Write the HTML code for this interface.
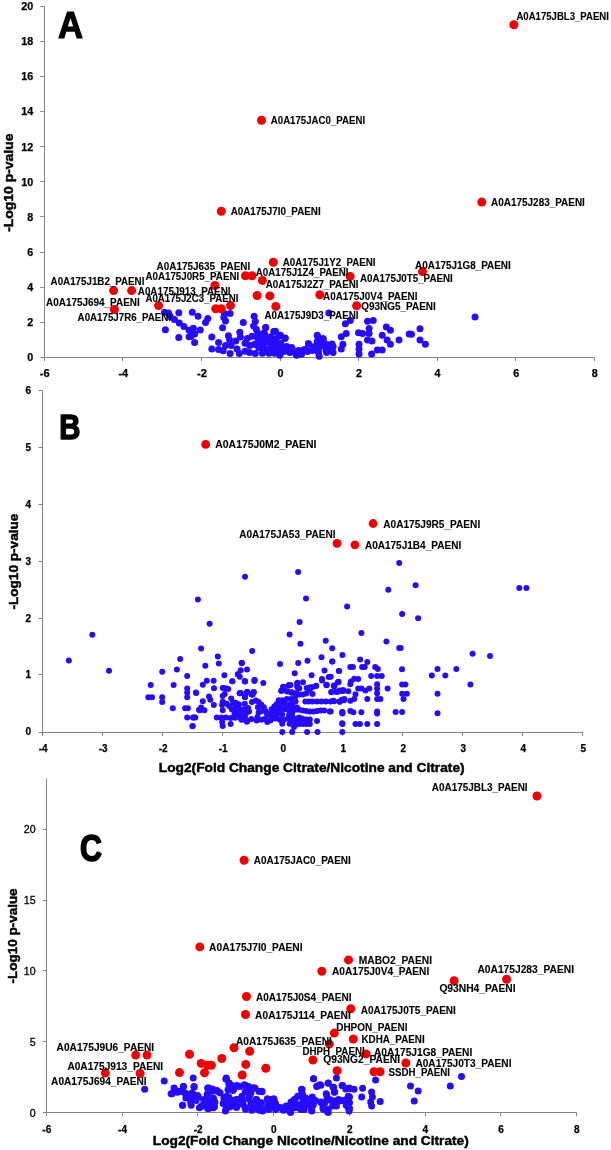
<!DOCTYPE html>
<html><head><meta charset="utf-8"><style>
html,body{margin:0;padding:0;background:#fff;overflow:hidden;}
svg{display:block;will-change:transform;}
text{font-family:"Liberation Sans", sans-serif;fill:#000;}
</style></head><body>
<svg width="611" height="1150" viewBox="0 0 611 1150">
<line x1="44.5" y1="6.0" x2="44.5" y2="360.9" stroke="#838383" stroke-width="1.0"/>
<line x1="40.3" y1="357.5" x2="594.5" y2="357.5" stroke="#838383" stroke-width="1.0"/>
<text x="33.3" y="361.4" font-size="10.6" font-weight="bold" text-anchor="end" textLength="6.0" lengthAdjust="spacingAndGlyphs" stroke="#000" stroke-width="0.25">0</text>
<line x1="40.3" y1="322.5" x2="44.5" y2="322.5" stroke="#838383" stroke-width="1.0"/>
<text x="33.3" y="326.2" font-size="10.6" font-weight="bold" text-anchor="end" textLength="6.0" lengthAdjust="spacingAndGlyphs" stroke="#000" stroke-width="0.25">2</text>
<line x1="40.3" y1="287.5" x2="44.5" y2="287.5" stroke="#838383" stroke-width="1.0"/>
<text x="33.3" y="291.1" font-size="10.6" font-weight="bold" text-anchor="end" textLength="6.0" lengthAdjust="spacingAndGlyphs" stroke="#000" stroke-width="0.25">4</text>
<line x1="40.3" y1="252.5" x2="44.5" y2="252.5" stroke="#838383" stroke-width="1.0"/>
<text x="33.3" y="256.0" font-size="10.6" font-weight="bold" text-anchor="end" textLength="6.0" lengthAdjust="spacingAndGlyphs" stroke="#000" stroke-width="0.25">6</text>
<line x1="40.3" y1="216.5" x2="44.5" y2="216.5" stroke="#838383" stroke-width="1.0"/>
<text x="33.3" y="220.8" font-size="10.6" font-weight="bold" text-anchor="end" textLength="6.0" lengthAdjust="spacingAndGlyphs" stroke="#000" stroke-width="0.25">8</text>
<line x1="40.3" y1="181.5" x2="44.5" y2="181.5" stroke="#838383" stroke-width="1.0"/>
<text x="33.3" y="185.7" font-size="10.6" font-weight="bold" text-anchor="end" textLength="12.0" lengthAdjust="spacingAndGlyphs" stroke="#000" stroke-width="0.25">10</text>
<line x1="40.3" y1="146.5" x2="44.5" y2="146.5" stroke="#838383" stroke-width="1.0"/>
<text x="33.3" y="150.5" font-size="10.6" font-weight="bold" text-anchor="end" textLength="12.0" lengthAdjust="spacingAndGlyphs" stroke="#000" stroke-width="0.25">12</text>
<line x1="40.3" y1="111.5" x2="44.5" y2="111.5" stroke="#838383" stroke-width="1.0"/>
<text x="33.3" y="115.4" font-size="10.6" font-weight="bold" text-anchor="end" textLength="12.0" lengthAdjust="spacingAndGlyphs" stroke="#000" stroke-width="0.25">14</text>
<line x1="40.3" y1="76.5" x2="44.5" y2="76.5" stroke="#838383" stroke-width="1.0"/>
<text x="33.3" y="80.2" font-size="10.6" font-weight="bold" text-anchor="end" textLength="12.0" lengthAdjust="spacingAndGlyphs" stroke="#000" stroke-width="0.25">16</text>
<line x1="40.3" y1="41.5" x2="44.5" y2="41.5" stroke="#838383" stroke-width="1.0"/>
<text x="33.3" y="45.1" font-size="10.6" font-weight="bold" text-anchor="end" textLength="12.0" lengthAdjust="spacingAndGlyphs" stroke="#000" stroke-width="0.25">18</text>
<line x1="40.3" y1="6.5" x2="44.5" y2="6.5" stroke="#838383" stroke-width="1.0"/>
<text x="33.3" y="9.9" font-size="10.6" font-weight="bold" text-anchor="end" textLength="12.0" lengthAdjust="spacingAndGlyphs" stroke="#000" stroke-width="0.25">20</text>
<text x="44.7" y="377.0" font-size="10.5" font-weight="bold" text-anchor="middle" textLength="9.8" lengthAdjust="spacingAndGlyphs" stroke="#000" stroke-width="0.25">-6</text>
<line x1="122.5" y1="357.5" x2="122.5" y2="360.9" stroke="#838383" stroke-width="1.0"/>
<text x="123.3" y="377.0" font-size="10.5" font-weight="bold" text-anchor="middle" textLength="9.8" lengthAdjust="spacingAndGlyphs" stroke="#000" stroke-width="0.25">-4</text>
<line x1="201.5" y1="357.5" x2="201.5" y2="360.9" stroke="#838383" stroke-width="1.0"/>
<text x="201.9" y="377.0" font-size="10.5" font-weight="bold" text-anchor="middle" textLength="9.8" lengthAdjust="spacingAndGlyphs" stroke="#000" stroke-width="0.25">-2</text>
<line x1="280.5" y1="357.5" x2="280.5" y2="360.9" stroke="#838383" stroke-width="1.0"/>
<text x="280.4" y="377.0" font-size="10.5" font-weight="bold" text-anchor="middle" textLength="6.0" lengthAdjust="spacingAndGlyphs" stroke="#000" stroke-width="0.25">0</text>
<line x1="358.5" y1="357.5" x2="358.5" y2="360.9" stroke="#838383" stroke-width="1.0"/>
<text x="359.0" y="377.0" font-size="10.5" font-weight="bold" text-anchor="middle" textLength="6.0" lengthAdjust="spacingAndGlyphs" stroke="#000" stroke-width="0.25">2</text>
<line x1="437.5" y1="357.5" x2="437.5" y2="360.9" stroke="#838383" stroke-width="1.0"/>
<text x="437.6" y="377.0" font-size="10.5" font-weight="bold" text-anchor="middle" textLength="6.0" lengthAdjust="spacingAndGlyphs" stroke="#000" stroke-width="0.25">4</text>
<line x1="515.5" y1="357.5" x2="515.5" y2="360.9" stroke="#838383" stroke-width="1.0"/>
<text x="516.2" y="377.0" font-size="10.5" font-weight="bold" text-anchor="middle" textLength="6.0" lengthAdjust="spacingAndGlyphs" stroke="#000" stroke-width="0.25">6</text>
<line x1="594.5" y1="357.5" x2="594.5" y2="360.9" stroke="#838383" stroke-width="1.0"/>
<text x="594.8" y="377.0" font-size="10.5" font-weight="bold" text-anchor="middle" textLength="6.0" lengthAdjust="spacingAndGlyphs" stroke="#000" stroke-width="0.25">8</text>
<text x="57.9" y="38.0" font-size="36.6" font-weight="bold" textLength="25.0" lengthAdjust="spacingAndGlyphs" stroke="#000" stroke-width="1.2" stroke-linejoin="round">A</text>
<text transform="translate(12.7,231.8) rotate(-90)" font-size="12.8" font-weight="bold" stroke="#000" stroke-width="0.45" textLength="98.2" lengthAdjust="spacingAndGlyphs">-Log10 p-value</text>
<line x1="42.5" y1="390.8" x2="42.5" y2="735.9" stroke="#838383" stroke-width="1.0"/>
<line x1="38.6" y1="732.5" x2="582.9" y2="732.5" stroke="#838383" stroke-width="1.0"/>
<text x="31.0" y="735.1" font-size="10" font-weight="bold" text-anchor="end" stroke="#000" stroke-width="0.25">0</text>
<line x1="38.6" y1="674.5" x2="42.5" y2="674.5" stroke="#838383" stroke-width="1.0"/>
<text x="31.0" y="678.3" font-size="10" font-weight="bold" text-anchor="end" stroke="#000" stroke-width="0.25">1</text>
<line x1="38.6" y1="618.5" x2="42.5" y2="618.5" stroke="#838383" stroke-width="1.0"/>
<text x="31.0" y="621.5" font-size="10" font-weight="bold" text-anchor="end" stroke="#000" stroke-width="0.25">2</text>
<line x1="38.6" y1="561.5" x2="42.5" y2="561.5" stroke="#838383" stroke-width="1.0"/>
<text x="31.0" y="564.7" font-size="10" font-weight="bold" text-anchor="end" stroke="#000" stroke-width="0.25">3</text>
<line x1="38.6" y1="504.5" x2="42.5" y2="504.5" stroke="#838383" stroke-width="1.0"/>
<text x="31.0" y="507.9" font-size="10" font-weight="bold" text-anchor="end" stroke="#000" stroke-width="0.25">4</text>
<line x1="38.6" y1="447.5" x2="42.5" y2="447.5" stroke="#838383" stroke-width="1.0"/>
<text x="31.0" y="451.1" font-size="10" font-weight="bold" text-anchor="end" stroke="#000" stroke-width="0.25">5</text>
<line x1="38.6" y1="390.5" x2="42.5" y2="390.5" stroke="#838383" stroke-width="1.0"/>
<text x="31.0" y="394.3" font-size="10" font-weight="bold" text-anchor="end" stroke="#000" stroke-width="0.25">6</text>
<text x="43.2" y="751.6" font-size="10" font-weight="bold" text-anchor="middle" stroke="#000" stroke-width="0.25">-4</text>
<line x1="102.5" y1="732.5" x2="102.5" y2="735.9" stroke="#838383" stroke-width="1.0"/>
<text x="103.2" y="751.6" font-size="10" font-weight="bold" text-anchor="middle" stroke="#000" stroke-width="0.25">-3</text>
<line x1="162.5" y1="732.5" x2="162.5" y2="735.9" stroke="#838383" stroke-width="1.0"/>
<text x="163.2" y="751.6" font-size="10" font-weight="bold" text-anchor="middle" stroke="#000" stroke-width="0.25">-2</text>
<line x1="222.5" y1="732.5" x2="222.5" y2="735.9" stroke="#838383" stroke-width="1.0"/>
<text x="223.2" y="751.6" font-size="10" font-weight="bold" text-anchor="middle" stroke="#000" stroke-width="0.25">-1</text>
<line x1="282.5" y1="732.5" x2="282.5" y2="735.9" stroke="#838383" stroke-width="1.0"/>
<text x="283.2" y="751.6" font-size="10" font-weight="bold" text-anchor="middle" stroke="#000" stroke-width="0.25">0</text>
<line x1="342.5" y1="732.5" x2="342.5" y2="735.9" stroke="#838383" stroke-width="1.0"/>
<text x="343.2" y="751.6" font-size="10" font-weight="bold" text-anchor="middle" stroke="#000" stroke-width="0.25">1</text>
<line x1="402.5" y1="732.5" x2="402.5" y2="735.9" stroke="#838383" stroke-width="1.0"/>
<text x="403.2" y="751.6" font-size="10" font-weight="bold" text-anchor="middle" stroke="#000" stroke-width="0.25">2</text>
<line x1="462.5" y1="732.5" x2="462.5" y2="735.9" stroke="#838383" stroke-width="1.0"/>
<text x="463.2" y="751.6" font-size="10" font-weight="bold" text-anchor="middle" stroke="#000" stroke-width="0.25">3</text>
<line x1="522.5" y1="732.5" x2="522.5" y2="735.9" stroke="#838383" stroke-width="1.0"/>
<text x="523.2" y="751.6" font-size="10" font-weight="bold" text-anchor="middle" stroke="#000" stroke-width="0.25">4</text>
<line x1="582.5" y1="732.5" x2="582.5" y2="735.9" stroke="#838383" stroke-width="1.0"/>
<text x="583.2" y="751.6" font-size="10" font-weight="bold" text-anchor="middle" stroke="#000" stroke-width="0.25">5</text>
<text x="59.2" y="438.9" font-size="35.8" font-weight="bold" textLength="21.2" lengthAdjust="spacingAndGlyphs" stroke="#000" stroke-width="1.6" stroke-linejoin="round">B</text>
<text x="158.8" y="772.2" font-size="13.4" font-weight="bold" textLength="305.8" lengthAdjust="spacingAndGlyphs" stroke="#000" stroke-width="0.45">Log2(Fold Change Citrate/Nicotine and Citrate)</text>
<text transform="translate(17.6,609.6) rotate(-90)" font-size="12.8" font-weight="bold" stroke="#000" stroke-width="0.45" textLength="96.0" lengthAdjust="spacingAndGlyphs">-Log10 p-value</text>
<line x1="46.5" y1="778.5" x2="46.5" y2="1116.1" stroke="#838383" stroke-width="1.0"/>
<line x1="42.9" y1="1112.5" x2="576.5" y2="1112.5" stroke="#838383" stroke-width="1.0"/>
<text x="35.6" y="1116.6" font-size="10.4" text-anchor="end" textLength="5.9" lengthAdjust="spacingAndGlyphs" stroke="#000" stroke-width="0.3">0</text>
<line x1="42.9" y1="1041.5" x2="46.5" y2="1041.5" stroke="#838383" stroke-width="1.0"/>
<text x="35.6" y="1045.7" font-size="10.4" text-anchor="end" textLength="5.9" lengthAdjust="spacingAndGlyphs" stroke="#000" stroke-width="0.3">5</text>
<line x1="42.9" y1="970.5" x2="46.5" y2="970.5" stroke="#838383" stroke-width="1.0"/>
<text x="35.6" y="974.8" font-size="10.4" text-anchor="end" textLength="11.8" lengthAdjust="spacingAndGlyphs" stroke="#000" stroke-width="0.3">10</text>
<line x1="42.9" y1="900.5" x2="46.5" y2="900.5" stroke="#838383" stroke-width="1.0"/>
<text x="35.6" y="903.9" font-size="10.4" text-anchor="end" textLength="11.8" lengthAdjust="spacingAndGlyphs" stroke="#000" stroke-width="0.3">15</text>
<line x1="42.9" y1="829.5" x2="46.5" y2="829.5" stroke="#838383" stroke-width="1.0"/>
<text x="35.6" y="833.0" font-size="10.4" text-anchor="end" textLength="11.8" lengthAdjust="spacingAndGlyphs" stroke="#000" stroke-width="0.3">20</text>
<text x="46.8" y="1132.6" font-size="10" font-weight="bold" text-anchor="middle" stroke="#000" stroke-width="0.25">-6</text>
<line x1="122.5" y1="1112.5" x2="122.5" y2="1116.1" stroke="#838383" stroke-width="1.0"/>
<text x="122.5" y="1132.6" font-size="10" font-weight="bold" text-anchor="middle" stroke="#000" stroke-width="0.25">-4</text>
<line x1="197.5" y1="1112.5" x2="197.5" y2="1116.1" stroke="#838383" stroke-width="1.0"/>
<text x="198.2" y="1132.6" font-size="10" font-weight="bold" text-anchor="middle" stroke="#000" stroke-width="0.25">-2</text>
<line x1="273.5" y1="1112.5" x2="273.5" y2="1116.1" stroke="#838383" stroke-width="1.0"/>
<text x="273.9" y="1132.6" font-size="10" font-weight="bold" text-anchor="middle" stroke="#000" stroke-width="0.25">0</text>
<line x1="349.5" y1="1112.5" x2="349.5" y2="1116.1" stroke="#838383" stroke-width="1.0"/>
<text x="349.7" y="1132.6" font-size="10" font-weight="bold" text-anchor="middle" stroke="#000" stroke-width="0.25">2</text>
<line x1="425.5" y1="1112.5" x2="425.5" y2="1116.1" stroke="#838383" stroke-width="1.0"/>
<text x="425.4" y="1132.6" font-size="10" font-weight="bold" text-anchor="middle" stroke="#000" stroke-width="0.25">4</text>
<line x1="500.5" y1="1112.5" x2="500.5" y2="1116.1" stroke="#838383" stroke-width="1.0"/>
<text x="501.1" y="1132.6" font-size="10" font-weight="bold" text-anchor="middle" stroke="#000" stroke-width="0.25">6</text>
<line x1="576.5" y1="1112.5" x2="576.5" y2="1116.1" stroke="#838383" stroke-width="1.0"/>
<text x="576.8" y="1132.6" font-size="10" font-weight="bold" text-anchor="middle" stroke="#000" stroke-width="0.25">8</text>
<text x="80.0" y="861.1" font-size="36.5" font-weight="bold" textLength="22.0" lengthAdjust="spacingAndGlyphs" stroke="#000" stroke-width="1.6" stroke-linejoin="round">C</text>
<text x="152.8" y="1145.3" font-size="13.4" font-weight="bold" textLength="316.0" lengthAdjust="spacingAndGlyphs" stroke="#000" stroke-width="0.45">Log2(Fold Change Nicotine/Nicotine and Citrate)</text>
<text transform="translate(16.6,983.4) rotate(-90)" font-size="12.8" font-weight="bold" stroke="#000" stroke-width="0.45" textLength="95.0" lengthAdjust="spacingAndGlyphs">-Log10 p-value</text>
<circle cx="164.5" cy="312.3" r="3.5" fill="rgb(38,12,250)"/>
<circle cx="168.6" cy="313.1" r="3.5" fill="rgb(38,12,250)"/>
<circle cx="170.3" cy="316.4" r="3.5" fill="rgb(38,12,250)"/>
<circle cx="174.4" cy="319.6" r="3.5" fill="rgb(38,12,250)"/>
<circle cx="178.8" cy="312.8" r="3.5" fill="rgb(38,12,250)"/>
<circle cx="179.3" cy="322.9" r="3.5" fill="rgb(38,12,250)"/>
<circle cx="183.9" cy="326.5" r="3.5" fill="rgb(38,12,250)"/>
<circle cx="165.4" cy="329.8" r="3.5" fill="rgb(38,12,250)"/>
<circle cx="178.8" cy="337.6" r="3.5" fill="rgb(38,12,250)"/>
<circle cx="189.1" cy="330.3" r="3.5" fill="rgb(38,12,250)"/>
<circle cx="189.1" cy="336.8" r="3.5" fill="rgb(38,12,250)"/>
<circle cx="265.7" cy="327.5" r="3.5" fill="rgb(38,12,250)"/>
<circle cx="274.2" cy="331.4" r="3.5" fill="rgb(38,12,250)"/>
<circle cx="279.9" cy="336.0" r="3.5" fill="rgb(38,12,250)"/>
<circle cx="284.8" cy="338.5" r="3.5" fill="rgb(38,12,250)"/>
<circle cx="264.4" cy="333.6" r="3.5" fill="rgb(38,12,250)"/>
<circle cx="262.7" cy="339.3" r="3.5" fill="rgb(38,12,250)"/>
<circle cx="269.3" cy="340.9" r="3.5" fill="rgb(38,12,250)"/>
<circle cx="275.8" cy="342.6" r="3.5" fill="rgb(38,12,250)"/>
<circle cx="264.4" cy="349.1" r="3.5" fill="rgb(38,12,250)"/>
<circle cx="270.9" cy="349.1" r="3.5" fill="rgb(38,12,250)"/>
<circle cx="277.5" cy="350.7" r="3.5" fill="rgb(38,12,250)"/>
<circle cx="282.4" cy="349.1" r="3.5" fill="rgb(38,12,250)"/>
<circle cx="287.3" cy="347.5" r="3.5" fill="rgb(38,12,250)"/>
<circle cx="292.2" cy="349.1" r="3.5" fill="rgb(38,12,250)"/>
<circle cx="295.5" cy="352.4" r="3.5" fill="rgb(38,12,250)"/>
<circle cx="302.0" cy="350.7" r="3.5" fill="rgb(38,12,250)"/>
<circle cx="308.6" cy="344.2" r="3.5" fill="rgb(38,12,250)"/>
<circle cx="306.9" cy="350.7" r="3.5" fill="rgb(38,12,250)"/>
<circle cx="313.5" cy="349.1" r="3.5" fill="rgb(38,12,250)"/>
<circle cx="317.6" cy="336.0" r="3.5" fill="rgb(38,12,250)"/>
<circle cx="319.2" cy="339.3" r="3.5" fill="rgb(38,12,250)"/>
<circle cx="323.3" cy="340.1" r="3.5" fill="rgb(38,12,250)"/>
<circle cx="321.7" cy="344.2" r="3.5" fill="rgb(38,12,250)"/>
<circle cx="318.4" cy="352.4" r="3.5" fill="rgb(38,12,250)"/>
<circle cx="326.6" cy="347.5" r="3.5" fill="rgb(38,12,250)"/>
<circle cx="326.6" cy="352.4" r="3.5" fill="rgb(38,12,250)"/>
<circle cx="328.8" cy="313.0" r="3.5" fill="rgb(38,12,250)"/>
<circle cx="345.4" cy="323.7" r="3.5" fill="rgb(38,12,250)"/>
<circle cx="350.3" cy="320.5" r="3.5" fill="rgb(38,12,250)"/>
<circle cx="346.2" cy="333.6" r="3.5" fill="rgb(38,12,250)"/>
<circle cx="341.3" cy="336.8" r="3.5" fill="rgb(38,12,250)"/>
<circle cx="342.9" cy="344.2" r="3.5" fill="rgb(38,12,250)"/>
<circle cx="341.3" cy="349.1" r="3.5" fill="rgb(38,12,250)"/>
<circle cx="333.1" cy="346.6" r="3.5" fill="rgb(38,12,250)"/>
<circle cx="333.1" cy="352.4" r="3.5" fill="rgb(38,12,250)"/>
<circle cx="358.5" cy="332.7" r="3.5" fill="rgb(38,12,250)"/>
<circle cx="362.6" cy="333.6" r="3.5" fill="rgb(38,12,250)"/>
<circle cx="359.0" cy="344.2" r="3.5" fill="rgb(38,12,250)"/>
<circle cx="359.0" cy="349.1" r="3.5" fill="rgb(38,12,250)"/>
<circle cx="359.0" cy="354.0" r="3.5" fill="rgb(38,12,250)"/>
<circle cx="367.5" cy="321.3" r="3.5" fill="rgb(38,12,250)"/>
<circle cx="373.2" cy="320.5" r="3.5" fill="rgb(38,12,250)"/>
<circle cx="369.1" cy="328.6" r="3.5" fill="rgb(38,12,250)"/>
<circle cx="369.1" cy="333.6" r="3.5" fill="rgb(38,12,250)"/>
<circle cx="367.5" cy="340.1" r="3.5" fill="rgb(38,12,250)"/>
<circle cx="372.0" cy="340.9" r="3.5" fill="rgb(38,12,250)"/>
<circle cx="382.2" cy="335.2" r="3.5" fill="rgb(38,12,250)"/>
<circle cx="386.3" cy="327.0" r="3.5" fill="rgb(38,12,250)"/>
<circle cx="390.4" cy="330.3" r="3.5" fill="rgb(38,12,250)"/>
<circle cx="387.1" cy="340.1" r="3.5" fill="rgb(38,12,250)"/>
<circle cx="390.4" cy="344.2" r="3.5" fill="rgb(38,12,250)"/>
<circle cx="377.3" cy="349.9" r="3.5" fill="rgb(38,12,250)"/>
<circle cx="382.2" cy="349.9" r="3.5" fill="rgb(38,12,250)"/>
<circle cx="371.6" cy="354.0" r="3.5" fill="rgb(38,12,250)"/>
<circle cx="399.0" cy="340.0" r="3.5" fill="rgb(38,12,250)"/>
<circle cx="409.2" cy="334.1" r="3.5" fill="rgb(38,12,250)"/>
<circle cx="411.5" cy="334.2" r="3.5" fill="rgb(38,12,250)"/>
<circle cx="420.0" cy="328.7" r="3.5" fill="rgb(38,12,250)"/>
<circle cx="420.0" cy="340.0" r="3.5" fill="rgb(38,12,250)"/>
<circle cx="425.4" cy="344.3" r="3.5" fill="rgb(38,12,250)"/>
<circle cx="475.0" cy="317.0" r="3.5" fill="rgb(38,12,250)"/>
<circle cx="265.6" cy="327.4" r="3.5" fill="rgb(38,12,250)"/>
<circle cx="273.8" cy="331.5" r="3.5" fill="rgb(38,12,250)"/>
<circle cx="263.2" cy="333.5" r="3.5" fill="rgb(38,12,250)"/>
<circle cx="260.7" cy="336.8" r="3.5" fill="rgb(38,12,250)"/>
<circle cx="266.5" cy="337.6" r="3.5" fill="rgb(38,12,250)"/>
<circle cx="270.6" cy="336.8" r="3.5" fill="rgb(38,12,250)"/>
<circle cx="276.3" cy="338.5" r="3.5" fill="rgb(38,12,250)"/>
<circle cx="259.1" cy="342.5" r="3.5" fill="rgb(38,12,250)"/>
<circle cx="264.8" cy="342.5" r="3.5" fill="rgb(38,12,250)"/>
<circle cx="269.7" cy="342.5" r="3.5" fill="rgb(38,12,250)"/>
<circle cx="274.6" cy="343.4" r="3.5" fill="rgb(38,12,250)"/>
<circle cx="261.6" cy="348.3" r="3.5" fill="rgb(38,12,250)"/>
<circle cx="266.5" cy="349.1" r="3.5" fill="rgb(38,12,250)"/>
<circle cx="271.4" cy="347.5" r="3.5" fill="rgb(38,12,250)"/>
<circle cx="276.3" cy="348.3" r="3.5" fill="rgb(38,12,250)"/>
<circle cx="262.4" cy="353.2" r="3.5" fill="rgb(38,12,250)"/>
<circle cx="268.9" cy="353.2" r="3.5" fill="rgb(38,12,250)"/>
<circle cx="274.6" cy="353.2" r="3.5" fill="rgb(38,12,250)"/>
<circle cx="275.5" cy="331.3" r="3.5" fill="rgb(38,12,250)"/>
<circle cx="280.4" cy="335.2" r="3.5" fill="rgb(38,12,250)"/>
<circle cx="285.3" cy="338.1" r="3.5" fill="rgb(38,12,250)"/>
<circle cx="275.0" cy="341.6" r="3.5" fill="rgb(38,12,250)"/>
<circle cx="280.9" cy="343.5" r="3.5" fill="rgb(38,12,250)"/>
<circle cx="286.8" cy="346.5" r="3.5" fill="rgb(38,12,250)"/>
<circle cx="291.7" cy="347.5" r="3.5" fill="rgb(38,12,250)"/>
<circle cx="277.9" cy="350.4" r="3.5" fill="rgb(38,12,250)"/>
<circle cx="283.8" cy="351.4" r="3.5" fill="rgb(38,12,250)"/>
<circle cx="289.7" cy="352.4" r="3.5" fill="rgb(38,12,250)"/>
<circle cx="295.6" cy="353.4" r="3.5" fill="rgb(38,12,250)"/>
<circle cx="298.6" cy="350.4" r="3.5" fill="rgb(38,12,250)"/>
<circle cx="301.5" cy="354.3" r="3.5" fill="rgb(38,12,250)"/>
<circle cx="304.5" cy="349.4" r="3.5" fill="rgb(38,12,250)"/>
<circle cx="308.4" cy="343.5" r="3.5" fill="rgb(38,12,250)"/>
<circle cx="307.4" cy="351.4" r="3.5" fill="rgb(38,12,250)"/>
<circle cx="312.3" cy="350.4" r="3.5" fill="rgb(38,12,250)"/>
<circle cx="317.2" cy="335.2" r="3.5" fill="rgb(38,12,250)"/>
<circle cx="323.1" cy="338.6" r="3.5" fill="rgb(38,12,250)"/>
<circle cx="317.2" cy="341.6" r="3.5" fill="rgb(38,12,250)"/>
<circle cx="320.2" cy="346.5" r="3.5" fill="rgb(38,12,250)"/>
<circle cx="318.2" cy="351.4" r="3.5" fill="rgb(38,12,250)"/>
<circle cx="319.2" cy="356.3" r="3.5" fill="rgb(38,12,250)"/>
<circle cx="327.1" cy="344.5" r="3.5" fill="rgb(38,12,250)"/>
<circle cx="332.0" cy="344.0" r="3.5" fill="rgb(38,12,250)"/>
<circle cx="326.1" cy="350.4" r="3.5" fill="rgb(38,12,250)"/>
<circle cx="332.0" cy="350.4" r="3.5" fill="rgb(38,12,250)"/>
<circle cx="314.3" cy="346.5" r="3.5" fill="rgb(38,12,250)"/>
<circle cx="296.6" cy="355.3" r="3.5" fill="rgb(38,12,250)"/>
<circle cx="279.9" cy="355.3" r="3.5" fill="rgb(38,12,250)"/>
<circle cx="192.3" cy="312.3" r="3.5" fill="rgb(38,12,250)"/>
<circle cx="198.0" cy="316.3" r="3.5" fill="rgb(38,12,250)"/>
<circle cx="207.8" cy="318.6" r="3.5" fill="rgb(38,12,250)"/>
<circle cx="205.5" cy="322.6" r="3.5" fill="rgb(38,12,250)"/>
<circle cx="224.4" cy="313.4" r="3.5" fill="rgb(38,12,250)"/>
<circle cx="230.1" cy="313.4" r="3.5" fill="rgb(38,12,250)"/>
<circle cx="223.8" cy="317.4" r="3.5" fill="rgb(38,12,250)"/>
<circle cx="225.5" cy="320.9" r="3.5" fill="rgb(38,12,250)"/>
<circle cx="222.6" cy="327.8" r="3.5" fill="rgb(38,12,250)"/>
<circle cx="243.3" cy="322.6" r="3.5" fill="rgb(38,12,250)"/>
<circle cx="254.1" cy="316.3" r="3.5" fill="rgb(38,12,250)"/>
<circle cx="255.3" cy="321.5" r="3.5" fill="rgb(38,12,250)"/>
<circle cx="253.6" cy="326.0" r="3.5" fill="rgb(38,12,250)"/>
<circle cx="193.4" cy="328.3" r="3.5" fill="rgb(38,12,250)"/>
<circle cx="200.3" cy="330.0" r="3.5" fill="rgb(38,12,250)"/>
<circle cx="194.6" cy="334.1" r="3.5" fill="rgb(38,12,250)"/>
<circle cx="191.1" cy="336.3" r="3.5" fill="rgb(38,12,250)"/>
<circle cx="194.6" cy="342.6" r="3.5" fill="rgb(38,12,250)"/>
<circle cx="211.8" cy="336.9" r="3.5" fill="rgb(38,12,250)"/>
<circle cx="218.6" cy="342.6" r="3.5" fill="rgb(38,12,250)"/>
<circle cx="211.8" cy="349.0" r="3.5" fill="rgb(38,12,250)"/>
<circle cx="228.4" cy="335.8" r="3.5" fill="rgb(38,12,250)"/>
<circle cx="229.5" cy="339.8" r="3.5" fill="rgb(38,12,250)"/>
<circle cx="239.8" cy="332.3" r="3.5" fill="rgb(38,12,250)"/>
<circle cx="240.4" cy="336.9" r="3.5" fill="rgb(38,12,250)"/>
<circle cx="235.8" cy="340.9" r="3.5" fill="rgb(38,12,250)"/>
<circle cx="225.5" cy="345.5" r="3.5" fill="rgb(38,12,250)"/>
<circle cx="231.2" cy="345.5" r="3.5" fill="rgb(38,12,250)"/>
<circle cx="218.6" cy="349.5" r="3.5" fill="rgb(38,12,250)"/>
<circle cx="223.2" cy="350.7" r="3.5" fill="rgb(38,12,250)"/>
<circle cx="230.1" cy="353.5" r="3.5" fill="rgb(38,12,250)"/>
<circle cx="237.0" cy="348.9" r="3.5" fill="rgb(38,12,250)"/>
<circle cx="239.3" cy="353.5" r="3.5" fill="rgb(38,12,250)"/>
<circle cx="245.0" cy="343.2" r="3.5" fill="rgb(38,12,250)"/>
<circle cx="247.3" cy="338.6" r="3.5" fill="rgb(38,12,250)"/>
<circle cx="251.9" cy="336.3" r="3.5" fill="rgb(38,12,250)"/>
<circle cx="249.6" cy="345.5" r="3.5" fill="rgb(38,12,250)"/>
<circle cx="245.0" cy="351.2" r="3.5" fill="rgb(38,12,250)"/>
<circle cx="249.6" cy="352.4" r="3.5" fill="rgb(38,12,250)"/>
<circle cx="254.1" cy="344.4" r="3.5" fill="rgb(38,12,250)"/>
<circle cx="255.3" cy="353.5" r="3.5" fill="rgb(38,12,250)"/>
<circle cx="257.6" cy="332.9" r="3.5" fill="rgb(38,12,250)"/>
<circle cx="257.6" cy="338.6" r="3.5" fill="rgb(38,12,250)"/>
<circle cx="258.7" cy="347.8" r="3.5" fill="rgb(38,12,250)"/>
<circle cx="256.4" cy="329.5" r="3.5" fill="rgb(38,12,250)"/>
<circle cx="513.9" cy="24.8" r="4.5" fill="rgb(240,0,0)"/>
<circle cx="261.5" cy="120.2" r="4.5" fill="rgb(240,0,0)"/>
<circle cx="221.3" cy="211.3" r="4.5" fill="rgb(240,0,0)"/>
<circle cx="481.8" cy="202.1" r="4.5" fill="rgb(240,0,0)"/>
<circle cx="273.3" cy="262.3" r="4.5" fill="rgb(240,0,0)"/>
<circle cx="245.5" cy="275.7" r="4.5" fill="rgb(240,0,0)"/>
<circle cx="252.0" cy="275.7" r="4.5" fill="rgb(240,0,0)"/>
<circle cx="262.4" cy="280.4" r="4.5" fill="rgb(240,0,0)"/>
<circle cx="214.9" cy="285.5" r="4.5" fill="rgb(240,0,0)"/>
<circle cx="257.1" cy="295.5" r="4.5" fill="rgb(240,0,0)"/>
<circle cx="269.9" cy="295.9" r="4.5" fill="rgb(240,0,0)"/>
<circle cx="275.8" cy="306.4" r="4.5" fill="rgb(240,0,0)"/>
<circle cx="230.5" cy="305.6" r="4.5" fill="rgb(240,0,0)"/>
<circle cx="158.6" cy="305.6" r="4.5" fill="rgb(240,0,0)"/>
<circle cx="215.7" cy="308.7" r="4.5" fill="rgb(240,0,0)"/>
<circle cx="221.3" cy="308.7" r="4.5" fill="rgb(240,0,0)"/>
<circle cx="350.1" cy="276.4" r="4.5" fill="rgb(240,0,0)"/>
<circle cx="319.8" cy="294.8" r="4.5" fill="rgb(240,0,0)"/>
<circle cx="356.6" cy="305.8" r="4.5" fill="rgb(240,0,0)"/>
<circle cx="422.5" cy="271.6" r="4.5" fill="rgb(240,0,0)"/>
<circle cx="113.6" cy="290.6" r="4.5" fill="rgb(240,0,0)"/>
<circle cx="131.6" cy="290.6" r="4.5" fill="rgb(240,0,0)"/>
<circle cx="114.4" cy="309.5" r="4.5" fill="rgb(240,0,0)"/>
<text x="516.4" y="20.4" font-size="10" font-weight="bold" textLength="92.5" lengthAdjust="spacingAndGlyphs" stroke="#000" stroke-width="0.12">A0A175JBL3_PAENI</text>
<text x="270.8" y="124.1" font-size="10" font-weight="bold" textLength="94.3" lengthAdjust="spacingAndGlyphs" stroke="#000" stroke-width="0.12">A0A175JAC0_PAENI</text>
<text x="230.7" y="215.1" font-size="10" font-weight="bold" textLength="90.0" lengthAdjust="spacingAndGlyphs" stroke="#000" stroke-width="0.12">A0A175J7I0_PAENI</text>
<text x="491.1" y="206.0" font-size="10" font-weight="bold" textLength="93.8" lengthAdjust="spacingAndGlyphs" stroke="#000" stroke-width="0.12">A0A175J283_PAENI</text>
<text x="156.6" y="269.6" font-size="10" font-weight="bold" textLength="93.6" lengthAdjust="spacingAndGlyphs" stroke="#000" stroke-width="0.12">A0A175J635_PAENI</text>
<text x="145.4" y="279.8" font-size="10" font-weight="bold" textLength="93.8" lengthAdjust="spacingAndGlyphs" stroke="#000" stroke-width="0.12">A0A175J0R5_PAENI</text>
<text x="255.8" y="275.8" font-size="10" font-weight="bold" textLength="92.8" lengthAdjust="spacingAndGlyphs" stroke="#000" stroke-width="0.12">A0A175J1Z4_PAENI</text>
<text x="282.8" y="266.2" font-size="10" font-weight="bold" textLength="92.7" lengthAdjust="spacingAndGlyphs" stroke="#000" stroke-width="0.12">A0A175J1Y2_PAENI</text>
<text x="415.1" y="268.7" font-size="10" font-weight="bold" textLength="95.6" lengthAdjust="spacingAndGlyphs" stroke="#000" stroke-width="0.12">A0A175J1G8_PAENI</text>
<text x="50.6" y="285.0" font-size="10" font-weight="bold" textLength="93.8" lengthAdjust="spacingAndGlyphs" stroke="#000" stroke-width="0.12">A0A175J1B2_PAENI</text>
<text x="137.8" y="294.5" font-size="10" font-weight="bold" textLength="92.7" lengthAdjust="spacingAndGlyphs" stroke="#000" stroke-width="0.12">A0A175J913_PAENI</text>
<text x="265.7" y="288.4" font-size="10" font-weight="bold" textLength="92.8" lengthAdjust="spacingAndGlyphs" stroke="#000" stroke-width="0.12">A0A175J2Z7_PAENI</text>
<text x="360.0" y="282.4" font-size="10" font-weight="bold" textLength="92.8" lengthAdjust="spacingAndGlyphs" stroke="#000" stroke-width="0.12">A0A175J0T5_PAENI</text>
<text x="46.1" y="306.0" font-size="10" font-weight="bold" textLength="93.6" lengthAdjust="spacingAndGlyphs" stroke="#000" stroke-width="0.12">A0A175J694_PAENI</text>
<text x="145.4" y="302.3" font-size="10" font-weight="bold" textLength="93.0" lengthAdjust="spacingAndGlyphs" stroke="#000" stroke-width="0.12">A0A175J2C3_PAENI</text>
<text x="323.1" y="299.5" font-size="10" font-weight="bold" textLength="94.3" lengthAdjust="spacingAndGlyphs" stroke="#000" stroke-width="0.12">A0A175J0V4_PAENI</text>
<text x="361.3" y="310.2" font-size="10" font-weight="bold" textLength="74.5" lengthAdjust="spacingAndGlyphs" stroke="#000" stroke-width="0.12">Q93NG5_PAENI</text>
<text x="77.6" y="321.4" font-size="10" font-weight="bold" textLength="93.5" lengthAdjust="spacingAndGlyphs" stroke="#000" stroke-width="0.12">A0A175J7R6_PAENI</text>
<text x="264.4" y="318.5" font-size="10" font-weight="bold" textLength="94.1" lengthAdjust="spacingAndGlyphs" stroke="#000" stroke-width="0.12">A0A175J9D3_PAENI</text>
<circle cx="205.7" cy="444.4" r="4.4" fill="rgb(240,0,0)"/>
<circle cx="373.1" cy="523.5" r="4.4" fill="rgb(240,0,0)"/>
<circle cx="337.0" cy="543.4" r="4.4" fill="rgb(240,0,0)"/>
<circle cx="354.9" cy="544.8" r="4.4" fill="rgb(240,0,0)"/>
<text x="215.3" y="448.2" font-size="10" font-weight="bold" textLength="101.1" lengthAdjust="spacingAndGlyphs" stroke="#000" stroke-width="0.12">A0A175J0M2_PAENI</text>
<text x="239.2" y="538.3" font-size="10" font-weight="bold" textLength="96.3" lengthAdjust="spacingAndGlyphs" stroke="#000" stroke-width="0.12">A0A175JA53_PAENI</text>
<text x="383.3" y="527.9" font-size="10" font-weight="bold" textLength="96.9" lengthAdjust="spacingAndGlyphs" stroke="#000" stroke-width="0.12">A0A175J9R5_PAENI</text>
<text x="364.9" y="549.0" font-size="10" font-weight="bold" textLength="96.3" lengthAdjust="spacingAndGlyphs" stroke="#000" stroke-width="0.12">A0A175J1B4_PAENI</text>
<circle cx="92.3" cy="634.8" r="3.0" fill="rgb(38,12,250)"/>
<circle cx="68.8" cy="660.6" r="3.0" fill="rgb(38,12,250)"/>
<circle cx="109.0" cy="670.8" r="3.0" fill="rgb(38,12,250)"/>
<circle cx="197.9" cy="599.4" r="3.0" fill="rgb(38,12,250)"/>
<circle cx="245.0" cy="576.7" r="3.0" fill="rgb(38,12,250)"/>
<circle cx="298.1" cy="571.9" r="3.0" fill="rgb(38,12,250)"/>
<circle cx="306.0" cy="598.4" r="3.0" fill="rgb(38,12,250)"/>
<circle cx="347.1" cy="606.4" r="3.0" fill="rgb(38,12,250)"/>
<circle cx="209.6" cy="623.7" r="3.0" fill="rgb(38,12,250)"/>
<circle cx="289.6" cy="634.4" r="3.0" fill="rgb(38,12,250)"/>
<circle cx="299.6" cy="622.1" r="3.0" fill="rgb(38,12,250)"/>
<circle cx="325.7" cy="640.8" r="3.0" fill="rgb(38,12,250)"/>
<circle cx="300.4" cy="643.7" r="3.0" fill="rgb(38,12,250)"/>
<circle cx="332.2" cy="648.3" r="3.0" fill="rgb(38,12,250)"/>
<circle cx="361.4" cy="633.0" r="3.0" fill="rgb(38,12,250)"/>
<circle cx="252.2" cy="650.9" r="3.0" fill="rgb(38,12,250)"/>
<circle cx="201.1" cy="648.5" r="3.0" fill="rgb(38,12,250)"/>
<circle cx="399.2" cy="563.0" r="3.0" fill="rgb(38,12,250)"/>
<circle cx="415.6" cy="585.3" r="3.0" fill="rgb(38,12,250)"/>
<circle cx="388.3" cy="589.7" r="3.0" fill="rgb(38,12,250)"/>
<circle cx="402.1" cy="614.1" r="3.0" fill="rgb(38,12,250)"/>
<circle cx="418.1" cy="618.2" r="3.0" fill="rgb(38,12,250)"/>
<circle cx="386.4" cy="641.6" r="3.0" fill="rgb(38,12,250)"/>
<circle cx="399.2" cy="648.0" r="3.0" fill="rgb(38,12,250)"/>
<circle cx="519.3" cy="588.0" r="3.0" fill="rgb(38,12,250)"/>
<circle cx="526.4" cy="588.0" r="3.0" fill="rgb(38,12,250)"/>
<circle cx="472.6" cy="653.7" r="3.0" fill="rgb(38,12,250)"/>
<circle cx="490.0" cy="656.0" r="3.0" fill="rgb(38,12,250)"/>
<circle cx="180.2" cy="659.1" r="3.0" fill="rgb(38,12,250)"/>
<circle cx="176.9" cy="669.4" r="3.0" fill="rgb(38,12,250)"/>
<circle cx="162.2" cy="671.7" r="3.0" fill="rgb(38,12,250)"/>
<circle cx="187.2" cy="676.0" r="3.0" fill="rgb(38,12,250)"/>
<circle cx="150.7" cy="685.0" r="3.0" fill="rgb(38,12,250)"/>
<circle cx="173.6" cy="685.0" r="3.0" fill="rgb(38,12,250)"/>
<circle cx="187.2" cy="688.6" r="3.0" fill="rgb(38,12,250)"/>
<circle cx="187.2" cy="692.6" r="3.0" fill="rgb(38,12,250)"/>
<circle cx="187.2" cy="697.2" r="3.0" fill="rgb(38,12,250)"/>
<circle cx="196.2" cy="693.0" r="3.0" fill="rgb(38,12,250)"/>
<circle cx="148.3" cy="697.2" r="3.0" fill="rgb(38,12,250)"/>
<circle cx="152.0" cy="697.2" r="3.0" fill="rgb(38,12,250)"/>
<circle cx="162.2" cy="697.2" r="3.0" fill="rgb(38,12,250)"/>
<circle cx="162.2" cy="702.0" r="3.0" fill="rgb(38,12,250)"/>
<circle cx="172.8" cy="708.2" r="3.0" fill="rgb(38,12,250)"/>
<circle cx="185.1" cy="708.2" r="3.0" fill="rgb(38,12,250)"/>
<circle cx="187.9" cy="708.2" r="3.0" fill="rgb(38,12,250)"/>
<circle cx="199.0" cy="709.8" r="3.0" fill="rgb(38,12,250)"/>
<circle cx="187.2" cy="717.5" r="3.0" fill="rgb(38,12,250)"/>
<circle cx="193.0" cy="717.5" r="3.0" fill="rgb(38,12,250)"/>
<circle cx="195.3" cy="717.5" r="3.0" fill="rgb(38,12,250)"/>
<circle cx="192.5" cy="726.2" r="3.0" fill="rgb(38,12,250)"/>
<circle cx="217.8" cy="656.5" r="3.0" fill="rgb(38,12,250)"/>
<circle cx="218.8" cy="663.4" r="3.0" fill="rgb(38,12,250)"/>
<circle cx="205.3" cy="665.7" r="3.0" fill="rgb(38,12,250)"/>
<circle cx="241.7" cy="662.8" r="3.0" fill="rgb(38,12,250)"/>
<circle cx="240.7" cy="670.3" r="3.0" fill="rgb(38,12,250)"/>
<circle cx="247.0" cy="669.4" r="3.0" fill="rgb(38,12,250)"/>
<circle cx="237.8" cy="674.2" r="3.0" fill="rgb(38,12,250)"/>
<circle cx="239.8" cy="676.8" r="3.0" fill="rgb(38,12,250)"/>
<circle cx="224.4" cy="675.3" r="3.0" fill="rgb(38,12,250)"/>
<circle cx="232.2" cy="681.2" r="3.0" fill="rgb(38,12,250)"/>
<circle cx="245.0" cy="681.2" r="3.0" fill="rgb(38,12,250)"/>
<circle cx="254.6" cy="679.9" r="3.0" fill="rgb(38,12,250)"/>
<circle cx="263.3" cy="683.0" r="3.0" fill="rgb(38,12,250)"/>
<circle cx="206.8" cy="680.8" r="3.0" fill="rgb(38,12,250)"/>
<circle cx="213.6" cy="680.8" r="3.0" fill="rgb(38,12,250)"/>
<circle cx="202.8" cy="684.7" r="3.0" fill="rgb(38,12,250)"/>
<circle cx="214.0" cy="688.2" r="3.0" fill="rgb(38,12,250)"/>
<circle cx="222.7" cy="688.0" r="3.0" fill="rgb(38,12,250)"/>
<circle cx="225.4" cy="688.2" r="3.0" fill="rgb(38,12,250)"/>
<circle cx="228.2" cy="689.0" r="3.0" fill="rgb(38,12,250)"/>
<circle cx="195.9" cy="692.6" r="3.0" fill="rgb(38,12,250)"/>
<circle cx="224.7" cy="693.9" r="3.0" fill="rgb(38,12,250)"/>
<circle cx="222.7" cy="696.1" r="3.0" fill="rgb(38,12,250)"/>
<circle cx="239.8" cy="693.2" r="3.0" fill="rgb(38,12,250)"/>
<circle cx="247.2" cy="692.2" r="3.0" fill="rgb(38,12,250)"/>
<circle cx="253.5" cy="692.2" r="3.0" fill="rgb(38,12,250)"/>
<circle cx="251.5" cy="694.5" r="3.0" fill="rgb(38,12,250)"/>
<circle cx="245.0" cy="696.9" r="3.0" fill="rgb(38,12,250)"/>
<circle cx="209.0" cy="696.5" r="3.0" fill="rgb(38,12,250)"/>
<circle cx="210.3" cy="699.8" r="3.0" fill="rgb(38,12,250)"/>
<circle cx="231.2" cy="698.4" r="3.0" fill="rgb(38,12,250)"/>
<circle cx="202.8" cy="701.3" r="3.0" fill="rgb(38,12,250)"/>
<circle cx="213.8" cy="705.0" r="3.0" fill="rgb(38,12,250)"/>
<circle cx="222.7" cy="701.7" r="3.0" fill="rgb(38,12,250)"/>
<circle cx="222.1" cy="705.0" r="3.0" fill="rgb(38,12,250)"/>
<circle cx="226.7" cy="703.7" r="3.0" fill="rgb(38,12,250)"/>
<circle cx="229.3" cy="706.3" r="3.0" fill="rgb(38,12,250)"/>
<circle cx="233.2" cy="702.4" r="3.0" fill="rgb(38,12,250)"/>
<circle cx="235.2" cy="706.3" r="3.0" fill="rgb(38,12,250)"/>
<circle cx="238.4" cy="704.3" r="3.0" fill="rgb(38,12,250)"/>
<circle cx="201.1" cy="707.6" r="3.0" fill="rgb(38,12,250)"/>
<circle cx="199.8" cy="710.2" r="3.0" fill="rgb(38,12,250)"/>
<circle cx="204.4" cy="710.2" r="3.0" fill="rgb(38,12,250)"/>
<circle cx="222.7" cy="710.2" r="3.0" fill="rgb(38,12,250)"/>
<circle cx="231.9" cy="709.6" r="3.0" fill="rgb(38,12,250)"/>
<circle cx="239.8" cy="709.6" r="3.0" fill="rgb(38,12,250)"/>
<circle cx="193.9" cy="717.4" r="3.0" fill="rgb(38,12,250)"/>
<circle cx="216.8" cy="717.4" r="3.0" fill="rgb(38,12,250)"/>
<circle cx="221.4" cy="717.4" r="3.0" fill="rgb(38,12,250)"/>
<circle cx="226.0" cy="717.4" r="3.0" fill="rgb(38,12,250)"/>
<circle cx="230.6" cy="718.1" r="3.0" fill="rgb(38,12,250)"/>
<circle cx="234.5" cy="714.2" r="3.0" fill="rgb(38,12,250)"/>
<circle cx="222.1" cy="722.0" r="3.0" fill="rgb(38,12,250)"/>
<circle cx="222.7" cy="725.9" r="3.0" fill="rgb(38,12,250)"/>
<circle cx="230.6" cy="724.0" r="3.0" fill="rgb(38,12,250)"/>
<circle cx="192.6" cy="725.9" r="3.0" fill="rgb(38,12,250)"/>
<circle cx="239.8" cy="714.2" r="3.0" fill="rgb(38,12,250)"/>
<circle cx="245.0" cy="716.8" r="3.0" fill="rgb(38,12,250)"/>
<circle cx="242.4" cy="719.4" r="3.0" fill="rgb(38,12,250)"/>
<circle cx="247.6" cy="720.7" r="3.0" fill="rgb(38,12,250)"/>
<circle cx="241.8" cy="663.2" r="3.0" fill="rgb(38,12,250)"/>
<circle cx="237.9" cy="674.4" r="3.0" fill="rgb(38,12,250)"/>
<circle cx="232.4" cy="681.2" r="3.0" fill="rgb(38,12,250)"/>
<circle cx="244.7" cy="681.2" r="3.0" fill="rgb(38,12,250)"/>
<circle cx="254.5" cy="679.9" r="3.0" fill="rgb(38,12,250)"/>
<circle cx="245.0" cy="681.4" r="3.0" fill="rgb(38,12,250)"/>
<circle cx="254.4" cy="680.9" r="3.0" fill="rgb(38,12,250)"/>
<circle cx="240.9" cy="693.0" r="3.0" fill="rgb(38,12,250)"/>
<circle cx="247.2" cy="691.7" r="3.0" fill="rgb(38,12,250)"/>
<circle cx="253.5" cy="692.2" r="3.0" fill="rgb(38,12,250)"/>
<circle cx="252.6" cy="694.4" r="3.0" fill="rgb(38,12,250)"/>
<circle cx="245.0" cy="696.7" r="3.0" fill="rgb(38,12,250)"/>
<circle cx="283.2" cy="686.8" r="3.0" fill="rgb(38,12,250)"/>
<circle cx="289.1" cy="685.0" r="3.0" fill="rgb(38,12,250)"/>
<circle cx="281.4" cy="690.4" r="3.0" fill="rgb(38,12,250)"/>
<circle cx="286.8" cy="691.3" r="3.0" fill="rgb(38,12,250)"/>
<circle cx="291.3" cy="692.6" r="3.0" fill="rgb(38,12,250)"/>
<circle cx="282.3" cy="732.0" r="3.0" fill="rgb(38,12,250)"/>
<circle cx="292.2" cy="732.0" r="3.0" fill="rgb(38,12,250)"/>
<circle cx="307.1" cy="732.0" r="3.0" fill="rgb(38,12,250)"/>
<circle cx="317.5" cy="732.0" r="3.0" fill="rgb(38,12,250)"/>
<circle cx="342.3" cy="732.0" r="3.0" fill="rgb(38,12,250)"/>
<circle cx="321.5" cy="657.2" r="3.0" fill="rgb(38,12,250)"/>
<circle cx="307.5" cy="660.8" r="3.0" fill="rgb(38,12,250)"/>
<circle cx="298.2" cy="663.1" r="3.0" fill="rgb(38,12,250)"/>
<circle cx="280.0" cy="664.1" r="3.0" fill="rgb(38,12,250)"/>
<circle cx="332.1" cy="661.5" r="3.0" fill="rgb(38,12,250)"/>
<circle cx="294.7" cy="673.2" r="3.0" fill="rgb(38,12,250)"/>
<circle cx="311.6" cy="675.3" r="3.0" fill="rgb(38,12,250)"/>
<circle cx="324.5" cy="670.4" r="3.0" fill="rgb(38,12,250)"/>
<circle cx="338.8" cy="671.0" r="3.0" fill="rgb(38,12,250)"/>
<circle cx="322.0" cy="679.0" r="3.0" fill="rgb(38,12,250)"/>
<circle cx="328.7" cy="676.9" r="3.0" fill="rgb(38,12,250)"/>
<circle cx="297.5" cy="682.7" r="3.0" fill="rgb(38,12,250)"/>
<circle cx="303.0" cy="682.3" r="3.0" fill="rgb(38,12,250)"/>
<circle cx="289.0" cy="685.3" r="3.0" fill="rgb(38,12,250)"/>
<circle cx="283.6" cy="687.2" r="3.0" fill="rgb(38,12,250)"/>
<circle cx="299.3" cy="688.0" r="3.0" fill="rgb(38,12,250)"/>
<circle cx="308.4" cy="688.0" r="3.0" fill="rgb(38,12,250)"/>
<circle cx="312.4" cy="687.3" r="3.0" fill="rgb(38,12,250)"/>
<circle cx="316.2" cy="685.8" r="3.0" fill="rgb(38,12,250)"/>
<circle cx="326.5" cy="684.8" r="3.0" fill="rgb(38,12,250)"/>
<circle cx="334.4" cy="685.5" r="3.0" fill="rgb(38,12,250)"/>
<circle cx="338.0" cy="682.2" r="3.0" fill="rgb(38,12,250)"/>
<circle cx="326.6" cy="685.2" r="3.0" fill="rgb(38,12,250)"/>
<circle cx="334.1" cy="686.5" r="3.0" fill="rgb(38,12,250)"/>
<circle cx="297.2" cy="683.2" r="3.0" fill="rgb(38,12,250)"/>
<circle cx="290.5" cy="685.0" r="3.0" fill="rgb(38,12,250)"/>
<circle cx="299.0" cy="688.6" r="3.0" fill="rgb(38,12,250)"/>
<circle cx="306.7" cy="688.1" r="3.0" fill="rgb(38,12,250)"/>
<circle cx="310.3" cy="687.2" r="3.0" fill="rgb(38,12,250)"/>
<circle cx="316.1" cy="685.9" r="3.0" fill="rgb(38,12,250)"/>
<circle cx="322.0" cy="680.5" r="3.0" fill="rgb(38,12,250)"/>
<circle cx="326.5" cy="685.0" r="3.0" fill="rgb(38,12,250)"/>
<circle cx="334.1" cy="685.9" r="3.0" fill="rgb(38,12,250)"/>
<circle cx="338.2" cy="682.3" r="3.0" fill="rgb(38,12,250)"/>
<circle cx="342.4" cy="655.0" r="3.0" fill="rgb(38,12,250)"/>
<circle cx="360.1" cy="659.4" r="3.0" fill="rgb(38,12,250)"/>
<circle cx="367.3" cy="662.0" r="3.0" fill="rgb(38,12,250)"/>
<circle cx="332.4" cy="661.5" r="3.0" fill="rgb(38,12,250)"/>
<circle cx="350.3" cy="667.0" r="3.0" fill="rgb(38,12,250)"/>
<circle cx="352.9" cy="667.0" r="3.0" fill="rgb(38,12,250)"/>
<circle cx="362.1" cy="667.0" r="3.0" fill="rgb(38,12,250)"/>
<circle cx="364.7" cy="667.0" r="3.0" fill="rgb(38,12,250)"/>
<circle cx="375.2" cy="667.0" r="3.0" fill="rgb(38,12,250)"/>
<circle cx="377.8" cy="669.0" r="3.0" fill="rgb(38,12,250)"/>
<circle cx="339.2" cy="670.9" r="3.0" fill="rgb(38,12,250)"/>
<circle cx="402.0" cy="669.3" r="3.0" fill="rgb(38,12,250)"/>
<circle cx="330.7" cy="676.8" r="3.0" fill="rgb(38,12,250)"/>
<circle cx="371.2" cy="675.9" r="3.0" fill="rgb(38,12,250)"/>
<circle cx="377.1" cy="675.9" r="3.0" fill="rgb(38,12,250)"/>
<circle cx="381.7" cy="675.9" r="3.0" fill="rgb(38,12,250)"/>
<circle cx="350.9" cy="681.4" r="3.0" fill="rgb(38,12,250)"/>
<circle cx="354.2" cy="678.8" r="3.0" fill="rgb(38,12,250)"/>
<circle cx="358.2" cy="679.1" r="3.0" fill="rgb(38,12,250)"/>
<circle cx="338.5" cy="681.8" r="3.0" fill="rgb(38,12,250)"/>
<circle cx="333.9" cy="685.6" r="3.0" fill="rgb(38,12,250)"/>
<circle cx="350.3" cy="684.3" r="3.0" fill="rgb(38,12,250)"/>
<circle cx="377.1" cy="684.3" r="3.0" fill="rgb(38,12,250)"/>
<circle cx="402.1" cy="684.5" r="3.0" fill="rgb(38,12,250)"/>
<circle cx="405.4" cy="684.5" r="3.0" fill="rgb(38,12,250)"/>
<circle cx="358.2" cy="688.4" r="3.0" fill="rgb(38,12,250)"/>
<circle cx="361.4" cy="688.4" r="3.0" fill="rgb(38,12,250)"/>
<circle cx="365.4" cy="690.6" r="3.0" fill="rgb(38,12,250)"/>
<circle cx="369.3" cy="688.4" r="3.0" fill="rgb(38,12,250)"/>
<circle cx="377.1" cy="688.4" r="3.0" fill="rgb(38,12,250)"/>
<circle cx="387.6" cy="688.4" r="3.0" fill="rgb(38,12,250)"/>
<circle cx="331.3" cy="691.9" r="3.0" fill="rgb(38,12,250)"/>
<circle cx="337.2" cy="691.9" r="3.0" fill="rgb(38,12,250)"/>
<circle cx="341.1" cy="690.9" r="3.0" fill="rgb(38,12,250)"/>
<circle cx="343.1" cy="690.9" r="3.0" fill="rgb(38,12,250)"/>
<circle cx="348.3" cy="691.2" r="3.0" fill="rgb(38,12,250)"/>
<circle cx="355.5" cy="694.3" r="3.0" fill="rgb(38,12,250)"/>
<circle cx="377.1" cy="693.2" r="3.0" fill="rgb(38,12,250)"/>
<circle cx="402.2" cy="693.8" r="3.0" fill="rgb(38,12,250)"/>
<circle cx="406.8" cy="693.8" r="3.0" fill="rgb(38,12,250)"/>
<circle cx="333.3" cy="700.8" r="3.0" fill="rgb(38,12,250)"/>
<circle cx="339.8" cy="701.7" r="3.0" fill="rgb(38,12,250)"/>
<circle cx="341.8" cy="699.8" r="3.0" fill="rgb(38,12,250)"/>
<circle cx="344.4" cy="699.1" r="3.0" fill="rgb(38,12,250)"/>
<circle cx="350.3" cy="700.8" r="3.0" fill="rgb(38,12,250)"/>
<circle cx="354.2" cy="699.1" r="3.0" fill="rgb(38,12,250)"/>
<circle cx="367.3" cy="699.1" r="3.0" fill="rgb(38,12,250)"/>
<circle cx="377.1" cy="699.1" r="3.0" fill="rgb(38,12,250)"/>
<circle cx="380.4" cy="699.1" r="3.0" fill="rgb(38,12,250)"/>
<circle cx="403.5" cy="699.0" r="3.0" fill="rgb(38,12,250)"/>
<circle cx="330.7" cy="711.5" r="3.0" fill="rgb(38,12,250)"/>
<circle cx="342.4" cy="712.2" r="3.0" fill="rgb(38,12,250)"/>
<circle cx="342.4" cy="713.5" r="3.0" fill="rgb(38,12,250)"/>
<circle cx="350.3" cy="710.9" r="3.0" fill="rgb(38,12,250)"/>
<circle cx="353.3" cy="712.2" r="3.0" fill="rgb(38,12,250)"/>
<circle cx="361.4" cy="712.2" r="3.0" fill="rgb(38,12,250)"/>
<circle cx="377.1" cy="711.5" r="3.0" fill="rgb(38,12,250)"/>
<circle cx="377.1" cy="713.5" r="3.0" fill="rgb(38,12,250)"/>
<circle cx="395.6" cy="712.0" r="3.0" fill="rgb(38,12,250)"/>
<circle cx="402.1" cy="712.0" r="3.0" fill="rgb(38,12,250)"/>
<circle cx="342.4" cy="724.0" r="3.0" fill="rgb(38,12,250)"/>
<circle cx="355.5" cy="724.0" r="3.0" fill="rgb(38,12,250)"/>
<circle cx="359.9" cy="724.0" r="3.0" fill="rgb(38,12,250)"/>
<circle cx="367.3" cy="724.0" r="3.0" fill="rgb(38,12,250)"/>
<circle cx="377.1" cy="724.0" r="3.0" fill="rgb(38,12,250)"/>
<circle cx="400.7" cy="648.1" r="3.0" fill="rgb(38,12,250)"/>
<circle cx="437.5" cy="669.1" r="3.0" fill="rgb(38,12,250)"/>
<circle cx="456.3" cy="669.1" r="3.0" fill="rgb(38,12,250)"/>
<circle cx="431.8" cy="675.4" r="3.0" fill="rgb(38,12,250)"/>
<circle cx="445.3" cy="675.4" r="3.0" fill="rgb(38,12,250)"/>
<circle cx="470.4" cy="684.5" r="3.0" fill="rgb(38,12,250)"/>
<circle cx="437.5" cy="693.7" r="3.0" fill="rgb(38,12,250)"/>
<circle cx="437.5" cy="713.2" r="3.0" fill="rgb(38,12,250)"/>
<circle cx="291.8" cy="692.6" r="3.0" fill="rgb(38,12,250)"/>
<circle cx="295.4" cy="693.5" r="3.0" fill="rgb(38,12,250)"/>
<circle cx="299.0" cy="694.4" r="3.0" fill="rgb(38,12,250)"/>
<circle cx="302.6" cy="694.4" r="3.0" fill="rgb(38,12,250)"/>
<circle cx="306.2" cy="693.5" r="3.0" fill="rgb(38,12,250)"/>
<circle cx="309.4" cy="690.8" r="3.0" fill="rgb(38,12,250)"/>
<circle cx="312.5" cy="694.0" r="3.0" fill="rgb(38,12,250)"/>
<circle cx="331.4" cy="692.2" r="3.0" fill="rgb(38,12,250)"/>
<circle cx="335.9" cy="691.7" r="3.0" fill="rgb(38,12,250)"/>
<circle cx="339.5" cy="690.4" r="3.0" fill="rgb(38,12,250)"/>
<circle cx="343.1" cy="689.9" r="3.0" fill="rgb(38,12,250)"/>
<circle cx="291.8" cy="699.8" r="3.0" fill="rgb(38,12,250)"/>
<circle cx="295.4" cy="701.6" r="3.0" fill="rgb(38,12,250)"/>
<circle cx="305.3" cy="701.6" r="3.0" fill="rgb(38,12,250)"/>
<circle cx="308.9" cy="701.6" r="3.0" fill="rgb(38,12,250)"/>
<circle cx="312.5" cy="701.6" r="3.0" fill="rgb(38,12,250)"/>
<circle cx="317.0" cy="701.6" r="3.0" fill="rgb(38,12,250)"/>
<circle cx="321.5" cy="701.6" r="3.0" fill="rgb(38,12,250)"/>
<circle cx="326.0" cy="701.6" r="3.0" fill="rgb(38,12,250)"/>
<circle cx="330.5" cy="701.6" r="3.0" fill="rgb(38,12,250)"/>
<circle cx="334.1" cy="701.2" r="3.0" fill="rgb(38,12,250)"/>
<circle cx="339.5" cy="701.6" r="3.0" fill="rgb(38,12,250)"/>
<circle cx="344.0" cy="700.3" r="3.0" fill="rgb(38,12,250)"/>
<circle cx="291.8" cy="709.7" r="3.0" fill="rgb(38,12,250)"/>
<circle cx="295.4" cy="709.7" r="3.0" fill="rgb(38,12,250)"/>
<circle cx="299.0" cy="709.7" r="3.0" fill="rgb(38,12,250)"/>
<circle cx="302.6" cy="710.6" r="3.0" fill="rgb(38,12,250)"/>
<circle cx="306.2" cy="711.1" r="3.0" fill="rgb(38,12,250)"/>
<circle cx="309.8" cy="711.5" r="3.0" fill="rgb(38,12,250)"/>
<circle cx="313.4" cy="711.5" r="3.0" fill="rgb(38,12,250)"/>
<circle cx="317.0" cy="711.1" r="3.0" fill="rgb(38,12,250)"/>
<circle cx="320.6" cy="710.6" r="3.0" fill="rgb(38,12,250)"/>
<circle cx="324.2" cy="710.6" r="3.0" fill="rgb(38,12,250)"/>
<circle cx="329.6" cy="711.5" r="3.0" fill="rgb(38,12,250)"/>
<circle cx="342.2" cy="712.0" r="3.0" fill="rgb(38,12,250)"/>
<circle cx="291.8" cy="720.5" r="3.0" fill="rgb(38,12,250)"/>
<circle cx="295.4" cy="722.3" r="3.0" fill="rgb(38,12,250)"/>
<circle cx="299.0" cy="719.6" r="3.0" fill="rgb(38,12,250)"/>
<circle cx="302.6" cy="718.7" r="3.0" fill="rgb(38,12,250)"/>
<circle cx="306.2" cy="719.6" r="3.0" fill="rgb(38,12,250)"/>
<circle cx="309.8" cy="719.6" r="3.0" fill="rgb(38,12,250)"/>
<circle cx="295.4" cy="725.0" r="3.0" fill="rgb(38,12,250)"/>
<circle cx="299.0" cy="724.1" r="3.0" fill="rgb(38,12,250)"/>
<circle cx="302.6" cy="724.1" r="3.0" fill="rgb(38,12,250)"/>
<circle cx="306.2" cy="724.1" r="3.0" fill="rgb(38,12,250)"/>
<circle cx="309.8" cy="724.1" r="3.0" fill="rgb(38,12,250)"/>
<circle cx="317.0" cy="721.0" r="3.0" fill="rgb(38,12,250)"/>
<circle cx="342.2" cy="723.2" r="3.0" fill="rgb(38,12,250)"/>
<circle cx="292.0" cy="705.0" r="3.0" fill="rgb(38,12,250)"/>
<circle cx="292.0" cy="714.0" r="3.0" fill="rgb(38,12,250)"/>
<circle cx="292.0" cy="717.0" r="3.0" fill="rgb(38,12,250)"/>
<circle cx="294.0" cy="727.0" r="3.0" fill="rgb(38,12,250)"/>
<circle cx="239.6" cy="693.2" r="3.0" fill="rgb(38,12,250)"/>
<circle cx="247.4" cy="691.9" r="3.0" fill="rgb(38,12,250)"/>
<circle cx="253.7" cy="692.2" r="3.0" fill="rgb(38,12,250)"/>
<circle cx="252.3" cy="694.5" r="3.0" fill="rgb(38,12,250)"/>
<circle cx="244.8" cy="697.1" r="3.0" fill="rgb(38,12,250)"/>
<circle cx="235.7" cy="702.7" r="3.0" fill="rgb(38,12,250)"/>
<circle cx="238.9" cy="704.6" r="3.0" fill="rgb(38,12,250)"/>
<circle cx="244.8" cy="703.7" r="3.0" fill="rgb(38,12,250)"/>
<circle cx="252.0" cy="702.0" r="3.0" fill="rgb(38,12,250)"/>
<circle cx="255.9" cy="700.4" r="3.0" fill="rgb(38,12,250)"/>
<circle cx="258.6" cy="702.0" r="3.0" fill="rgb(38,12,250)"/>
<circle cx="261.2" cy="704.6" r="3.0" fill="rgb(38,12,250)"/>
<circle cx="263.8" cy="707.3" r="3.0" fill="rgb(38,12,250)"/>
<circle cx="265.8" cy="711.2" r="3.0" fill="rgb(38,12,250)"/>
<circle cx="267.1" cy="714.5" r="3.0" fill="rgb(38,12,250)"/>
<circle cx="271.7" cy="709.2" r="3.0" fill="rgb(38,12,250)"/>
<circle cx="274.3" cy="706.6" r="3.0" fill="rgb(38,12,250)"/>
<circle cx="236.3" cy="711.2" r="3.0" fill="rgb(38,12,250)"/>
<circle cx="240.2" cy="710.5" r="3.0" fill="rgb(38,12,250)"/>
<circle cx="243.5" cy="709.2" r="3.0" fill="rgb(38,12,250)"/>
<circle cx="248.1" cy="707.9" r="3.0" fill="rgb(38,12,250)"/>
<circle cx="235.0" cy="717.7" r="3.0" fill="rgb(38,12,250)"/>
<circle cx="240.2" cy="717.7" r="3.0" fill="rgb(38,12,250)"/>
<circle cx="243.5" cy="715.1" r="3.0" fill="rgb(38,12,250)"/>
<circle cx="246.8" cy="712.5" r="3.0" fill="rgb(38,12,250)"/>
<circle cx="249.0" cy="711.5" r="3.0" fill="rgb(38,12,250)"/>
<circle cx="257.9" cy="707.3" r="3.0" fill="rgb(38,12,250)"/>
<circle cx="258.6" cy="712.5" r="3.0" fill="rgb(38,12,250)"/>
<circle cx="261.2" cy="711.2" r="3.0" fill="rgb(38,12,250)"/>
<circle cx="241.5" cy="719.7" r="3.0" fill="rgb(38,12,250)"/>
<circle cx="246.8" cy="721.7" r="3.0" fill="rgb(38,12,250)"/>
<circle cx="251.4" cy="719.0" r="3.0" fill="rgb(38,12,250)"/>
<circle cx="256.6" cy="720.4" r="3.0" fill="rgb(38,12,250)"/>
<circle cx="257.3" cy="717.1" r="3.0" fill="rgb(38,12,250)"/>
<circle cx="261.2" cy="719.7" r="3.0" fill="rgb(38,12,250)"/>
<circle cx="264.5" cy="719.0" r="3.0" fill="rgb(38,12,250)"/>
<circle cx="269.0" cy="720.4" r="3.0" fill="rgb(38,12,250)"/>
<circle cx="271.7" cy="717.7" r="3.0" fill="rgb(38,12,250)"/>
<circle cx="274.3" cy="714.5" r="3.0" fill="rgb(38,12,250)"/>
<circle cx="283.3" cy="687.0" r="3.0" fill="rgb(38,12,250)"/>
<circle cx="289.1" cy="685.6" r="3.0" fill="rgb(38,12,250)"/>
<circle cx="281.3" cy="691.0" r="3.0" fill="rgb(38,12,250)"/>
<circle cx="287.6" cy="691.6" r="3.0" fill="rgb(38,12,250)"/>
<circle cx="292.2" cy="692.5" r="3.0" fill="rgb(38,12,250)"/>
<circle cx="297.1" cy="686.4" r="3.0" fill="rgb(38,12,250)"/>
<circle cx="298.2" cy="688.7" r="3.0" fill="rgb(38,12,250)"/>
<circle cx="295.4" cy="696.2" r="3.0" fill="rgb(38,12,250)"/>
<circle cx="278.7" cy="700.2" r="3.0" fill="rgb(38,12,250)"/>
<circle cx="282.2" cy="700.2" r="3.0" fill="rgb(38,12,250)"/>
<circle cx="286.8" cy="699.0" r="3.0" fill="rgb(38,12,250)"/>
<circle cx="290.8" cy="699.0" r="3.0" fill="rgb(38,12,250)"/>
<circle cx="295.4" cy="701.3" r="3.0" fill="rgb(38,12,250)"/>
<circle cx="276.5" cy="704.2" r="3.0" fill="rgb(38,12,250)"/>
<circle cx="279.9" cy="704.8" r="3.0" fill="rgb(38,12,250)"/>
<circle cx="289.1" cy="704.8" r="3.0" fill="rgb(38,12,250)"/>
<circle cx="292.5" cy="707.1" r="3.0" fill="rgb(38,12,250)"/>
<circle cx="297.1" cy="707.6" r="3.0" fill="rgb(38,12,250)"/>
<circle cx="272.4" cy="709.3" r="3.0" fill="rgb(38,12,250)"/>
<circle cx="276.5" cy="709.3" r="3.0" fill="rgb(38,12,250)"/>
<circle cx="281.0" cy="709.3" r="3.0" fill="rgb(38,12,250)"/>
<circle cx="285.0" cy="709.3" r="3.0" fill="rgb(38,12,250)"/>
<circle cx="289.1" cy="709.9" r="3.0" fill="rgb(38,12,250)"/>
<circle cx="268.4" cy="713.9" r="3.0" fill="rgb(38,12,250)"/>
<circle cx="273.6" cy="713.9" r="3.0" fill="rgb(38,12,250)"/>
<circle cx="278.2" cy="713.9" r="3.0" fill="rgb(38,12,250)"/>
<circle cx="282.2" cy="714.5" r="3.0" fill="rgb(38,12,250)"/>
<circle cx="289.1" cy="714.5" r="3.0" fill="rgb(38,12,250)"/>
<circle cx="291.9" cy="713.9" r="3.0" fill="rgb(38,12,250)"/>
<circle cx="266.1" cy="719.7" r="3.0" fill="rgb(38,12,250)"/>
<circle cx="270.7" cy="720.2" r="3.0" fill="rgb(38,12,250)"/>
<circle cx="275.3" cy="718.5" r="3.0" fill="rgb(38,12,250)"/>
<circle cx="279.9" cy="719.7" r="3.0" fill="rgb(38,12,250)"/>
<circle cx="283.9" cy="719.7" r="3.0" fill="rgb(38,12,250)"/>
<circle cx="287.9" cy="718.5" r="3.0" fill="rgb(38,12,250)"/>
<circle cx="291.9" cy="719.7" r="3.0" fill="rgb(38,12,250)"/>
<circle cx="297.1" cy="718.5" r="3.0" fill="rgb(38,12,250)"/>
<circle cx="299.4" cy="717.4" r="3.0" fill="rgb(38,12,250)"/>
<circle cx="282.2" cy="723.7" r="3.0" fill="rgb(38,12,250)"/>
<circle cx="289.6" cy="723.7" r="3.0" fill="rgb(38,12,250)"/>
<circle cx="295.9" cy="723.1" r="3.0" fill="rgb(38,12,250)"/>
<circle cx="267.3" cy="721.9" r="3.0" fill="rgb(38,12,250)"/>
<circle cx="285.5" cy="705.5" r="3.0" fill="rgb(38,12,250)"/>
<circle cx="284.0" cy="702.5" r="3.0" fill="rgb(38,12,250)"/>
<circle cx="144.7" cy="1089.2" r="3.5" fill="rgb(38,12,250)"/>
<circle cx="164.2" cy="1081.1" r="3.5" fill="rgb(38,12,250)"/>
<circle cx="193.2" cy="1077.9" r="3.5" fill="rgb(38,12,250)"/>
<circle cx="174.4" cy="1088.8" r="3.5" fill="rgb(38,12,250)"/>
<circle cx="171.9" cy="1093.7" r="3.5" fill="rgb(38,12,250)"/>
<circle cx="179.3" cy="1091.3" r="3.5" fill="rgb(38,12,250)"/>
<circle cx="183.4" cy="1086.4" r="3.5" fill="rgb(38,12,250)"/>
<circle cx="185.0" cy="1092.9" r="3.5" fill="rgb(38,12,250)"/>
<circle cx="187.5" cy="1097.8" r="3.5" fill="rgb(38,12,250)"/>
<circle cx="182.6" cy="1105.2" r="3.5" fill="rgb(38,12,250)"/>
<circle cx="194.0" cy="1086.4" r="3.5" fill="rgb(38,12,250)"/>
<circle cx="192.4" cy="1092.9" r="3.5" fill="rgb(38,12,250)"/>
<circle cx="195.6" cy="1098.6" r="3.5" fill="rgb(38,12,250)"/>
<circle cx="190.7" cy="1102.7" r="3.5" fill="rgb(38,12,250)"/>
<circle cx="198.1" cy="1097.0" r="3.5" fill="rgb(38,12,250)"/>
<circle cx="200.6" cy="1106.8" r="3.5" fill="rgb(38,12,250)"/>
<circle cx="208.7" cy="1088.0" r="3.5" fill="rgb(38,12,250)"/>
<circle cx="207.1" cy="1094.5" r="3.5" fill="rgb(38,12,250)"/>
<circle cx="208.7" cy="1101.9" r="3.5" fill="rgb(38,12,250)"/>
<circle cx="213.6" cy="1099.5" r="3.5" fill="rgb(38,12,250)"/>
<circle cx="212.0" cy="1091.3" r="3.5" fill="rgb(38,12,250)"/>
<circle cx="216.9" cy="1090.5" r="3.5" fill="rgb(38,12,250)"/>
<circle cx="220.2" cy="1092.9" r="3.5" fill="rgb(38,12,250)"/>
<circle cx="208.7" cy="1108.5" r="3.5" fill="rgb(38,12,250)"/>
<circle cx="214.5" cy="1106.8" r="3.5" fill="rgb(38,12,250)"/>
<circle cx="225.9" cy="1079.0" r="3.5" fill="rgb(38,12,250)"/>
<circle cx="229.2" cy="1083.1" r="3.5" fill="rgb(38,12,250)"/>
<circle cx="229.2" cy="1088.0" r="3.5" fill="rgb(38,12,250)"/>
<circle cx="234.1" cy="1086.4" r="3.5" fill="rgb(38,12,250)"/>
<circle cx="226.7" cy="1096.2" r="3.5" fill="rgb(38,12,250)"/>
<circle cx="223.5" cy="1102.7" r="3.5" fill="rgb(38,12,250)"/>
<circle cx="228.4" cy="1102.7" r="3.5" fill="rgb(38,12,250)"/>
<circle cx="231.7" cy="1100.3" r="3.5" fill="rgb(38,12,250)"/>
<circle cx="225.9" cy="1109.3" r="3.5" fill="rgb(38,12,250)"/>
<circle cx="230.0" cy="1106.8" r="3.5" fill="rgb(38,12,250)"/>
<circle cx="235.7" cy="1106.0" r="3.5" fill="rgb(38,12,250)"/>
<circle cx="238.2" cy="1099.5" r="3.5" fill="rgb(38,12,250)"/>
<circle cx="226.2" cy="1078.1" r="3.5" fill="rgb(38,12,250)"/>
<circle cx="234.1" cy="1088.8" r="3.5" fill="rgb(38,12,250)"/>
<circle cx="239.8" cy="1086.4" r="3.5" fill="rgb(38,12,250)"/>
<circle cx="245.5" cy="1085.5" r="3.5" fill="rgb(38,12,250)"/>
<circle cx="248.8" cy="1087.2" r="3.5" fill="rgb(38,12,250)"/>
<circle cx="252.9" cy="1088.0" r="3.5" fill="rgb(38,12,250)"/>
<circle cx="246.4" cy="1092.1" r="3.5" fill="rgb(38,12,250)"/>
<circle cx="249.6" cy="1095.4" r="3.5" fill="rgb(38,12,250)"/>
<circle cx="261.9" cy="1091.3" r="3.5" fill="rgb(38,12,250)"/>
<circle cx="234.9" cy="1102.7" r="3.5" fill="rgb(38,12,250)"/>
<circle cx="236.5" cy="1107.6" r="3.5" fill="rgb(38,12,250)"/>
<circle cx="241.5" cy="1099.5" r="3.5" fill="rgb(38,12,250)"/>
<circle cx="243.1" cy="1104.4" r="3.5" fill="rgb(38,12,250)"/>
<circle cx="245.5" cy="1109.3" r="3.5" fill="rgb(38,12,250)"/>
<circle cx="251.3" cy="1102.7" r="3.5" fill="rgb(38,12,250)"/>
<circle cx="252.9" cy="1109.3" r="3.5" fill="rgb(38,12,250)"/>
<circle cx="257.0" cy="1100.3" r="3.5" fill="rgb(38,12,250)"/>
<circle cx="259.5" cy="1106.0" r="3.5" fill="rgb(38,12,250)"/>
<circle cx="262.7" cy="1110.9" r="3.5" fill="rgb(38,12,250)"/>
<circle cx="267.6" cy="1099.5" r="3.5" fill="rgb(38,12,250)"/>
<circle cx="270.9" cy="1099.5" r="3.5" fill="rgb(38,12,250)"/>
<circle cx="274.2" cy="1100.3" r="3.5" fill="rgb(38,12,250)"/>
<circle cx="267.6" cy="1106.0" r="3.5" fill="rgb(38,12,250)"/>
<circle cx="272.6" cy="1106.8" r="3.5" fill="rgb(38,12,250)"/>
<circle cx="275.8" cy="1105.2" r="3.5" fill="rgb(38,12,250)"/>
<circle cx="279.1" cy="1107.6" r="3.5" fill="rgb(38,12,250)"/>
<circle cx="282.4" cy="1109.3" r="3.5" fill="rgb(38,12,250)"/>
<circle cx="287.3" cy="1107.6" r="3.5" fill="rgb(38,12,250)"/>
<circle cx="290.6" cy="1112.6" r="3.5" fill="rgb(38,12,250)"/>
<circle cx="292.2" cy="1106.0" r="3.5" fill="rgb(38,12,250)"/>
<circle cx="295.5" cy="1102.7" r="3.5" fill="rgb(38,12,250)"/>
<circle cx="298.7" cy="1096.2" r="3.5" fill="rgb(38,12,250)"/>
<circle cx="302.0" cy="1089.6" r="3.5" fill="rgb(38,12,250)"/>
<circle cx="303.6" cy="1098.6" r="3.5" fill="rgb(38,12,250)"/>
<circle cx="298.7" cy="1106.0" r="3.5" fill="rgb(38,12,250)"/>
<circle cx="303.6" cy="1107.6" r="3.5" fill="rgb(38,12,250)"/>
<circle cx="308.6" cy="1105.2" r="3.5" fill="rgb(38,12,250)"/>
<circle cx="311.8" cy="1097.8" r="3.5" fill="rgb(38,12,250)"/>
<circle cx="313.5" cy="1102.7" r="3.5" fill="rgb(38,12,250)"/>
<circle cx="311.8" cy="1110.9" r="3.5" fill="rgb(38,12,250)"/>
<circle cx="313.6" cy="1078.8" r="3.5" fill="rgb(38,12,250)"/>
<circle cx="316.7" cy="1086.4" r="3.5" fill="rgb(38,12,250)"/>
<circle cx="320.0" cy="1084.7" r="3.5" fill="rgb(38,12,250)"/>
<circle cx="328.2" cy="1083.1" r="3.5" fill="rgb(38,12,250)"/>
<circle cx="326.6" cy="1094.5" r="3.5" fill="rgb(38,12,250)"/>
<circle cx="324.9" cy="1102.7" r="3.5" fill="rgb(38,12,250)"/>
<circle cx="323.3" cy="1109.3" r="3.5" fill="rgb(38,12,250)"/>
<circle cx="328.2" cy="1109.3" r="3.5" fill="rgb(38,12,250)"/>
<circle cx="320.8" cy="1101.9" r="3.5" fill="rgb(38,12,250)"/>
<circle cx="336.4" cy="1077.9" r="3.5" fill="rgb(38,12,250)"/>
<circle cx="375.6" cy="1080.1" r="3.5" fill="rgb(38,12,250)"/>
<circle cx="333.1" cy="1087.2" r="3.5" fill="rgb(38,12,250)"/>
<circle cx="334.7" cy="1092.1" r="3.5" fill="rgb(38,12,250)"/>
<circle cx="342.1" cy="1085.5" r="3.5" fill="rgb(38,12,250)"/>
<circle cx="346.2" cy="1088.8" r="3.5" fill="rgb(38,12,250)"/>
<circle cx="350.3" cy="1088.8" r="3.5" fill="rgb(38,12,250)"/>
<circle cx="354.0" cy="1089.3" r="3.5" fill="rgb(38,12,250)"/>
<circle cx="362.6" cy="1088.3" r="3.5" fill="rgb(38,12,250)"/>
<circle cx="361.7" cy="1097.0" r="3.5" fill="rgb(38,12,250)"/>
<circle cx="371.6" cy="1092.1" r="3.5" fill="rgb(38,12,250)"/>
<circle cx="372.4" cy="1097.0" r="3.5" fill="rgb(38,12,250)"/>
<circle cx="370.7" cy="1101.9" r="3.5" fill="rgb(38,12,250)"/>
<circle cx="371.6" cy="1106.0" r="3.5" fill="rgb(38,12,250)"/>
<circle cx="380.2" cy="1101.4" r="3.5" fill="rgb(38,12,250)"/>
<circle cx="329.8" cy="1099.5" r="3.5" fill="rgb(38,12,250)"/>
<circle cx="334.7" cy="1101.1" r="3.5" fill="rgb(38,12,250)"/>
<circle cx="339.6" cy="1101.1" r="3.5" fill="rgb(38,12,250)"/>
<circle cx="336.4" cy="1106.0" r="3.5" fill="rgb(38,12,250)"/>
<circle cx="344.5" cy="1101.1" r="3.5" fill="rgb(38,12,250)"/>
<circle cx="349.5" cy="1097.0" r="3.5" fill="rgb(38,12,250)"/>
<circle cx="349.5" cy="1102.7" r="3.5" fill="rgb(38,12,250)"/>
<circle cx="349.5" cy="1108.5" r="3.5" fill="rgb(38,12,250)"/>
<circle cx="346.2" cy="1105.2" r="3.5" fill="rgb(38,12,250)"/>
<circle cx="328.2" cy="1112.6" r="3.5" fill="rgb(38,12,250)"/>
<circle cx="410.5" cy="1086.1" r="3.5" fill="rgb(38,12,250)"/>
<circle cx="418.2" cy="1091.1" r="3.5" fill="rgb(38,12,250)"/>
<circle cx="414.2" cy="1100.9" r="3.5" fill="rgb(38,12,250)"/>
<circle cx="450.3" cy="1086.1" r="3.5" fill="rgb(38,12,250)"/>
<circle cx="461.5" cy="1076.6" r="3.5" fill="rgb(38,12,250)"/>
<circle cx="174.0" cy="1088.1" r="3.5" fill="rgb(38,12,250)"/>
<circle cx="171.1" cy="1093.8" r="3.5" fill="rgb(38,12,250)"/>
<circle cx="177.3" cy="1092.2" r="3.5" fill="rgb(38,12,250)"/>
<circle cx="183.4" cy="1086.5" r="3.5" fill="rgb(38,12,250)"/>
<circle cx="182.2" cy="1091.4" r="3.5" fill="rgb(38,12,250)"/>
<circle cx="186.3" cy="1093.8" r="3.5" fill="rgb(38,12,250)"/>
<circle cx="185.9" cy="1097.9" r="3.5" fill="rgb(38,12,250)"/>
<circle cx="194.1" cy="1086.9" r="3.5" fill="rgb(38,12,250)"/>
<circle cx="192.0" cy="1093.0" r="3.5" fill="rgb(38,12,250)"/>
<circle cx="197.7" cy="1095.5" r="3.5" fill="rgb(38,12,250)"/>
<circle cx="191.2" cy="1098.7" r="3.5" fill="rgb(38,12,250)"/>
<circle cx="196.1" cy="1100.4" r="3.5" fill="rgb(38,12,250)"/>
<circle cx="182.6" cy="1105.3" r="3.5" fill="rgb(38,12,250)"/>
<circle cx="191.2" cy="1105.3" r="3.5" fill="rgb(38,12,250)"/>
<circle cx="199.4" cy="1107.7" r="3.5" fill="rgb(38,12,250)"/>
<circle cx="202.6" cy="1105.3" r="3.5" fill="rgb(38,12,250)"/>
<circle cx="207.6" cy="1088.1" r="3.5" fill="rgb(38,12,250)"/>
<circle cx="207.6" cy="1093.8" r="3.5" fill="rgb(38,12,250)"/>
<circle cx="206.7" cy="1099.5" r="3.5" fill="rgb(38,12,250)"/>
<circle cx="209.2" cy="1103.6" r="3.5" fill="rgb(38,12,250)"/>
<circle cx="207.6" cy="1108.6" r="3.5" fill="rgb(38,12,250)"/>
<circle cx="212.5" cy="1089.7" r="3.5" fill="rgb(38,12,250)"/>
<circle cx="213.3" cy="1099.5" r="3.5" fill="rgb(38,12,250)"/>
<circle cx="213.3" cy="1107.7" r="3.5" fill="rgb(38,12,250)"/>
<circle cx="203.5" cy="1099.5" r="3.5" fill="rgb(38,12,250)"/>
<circle cx="226.4" cy="1079.1" r="3.5" fill="rgb(38,12,250)"/>
<circle cx="228.8" cy="1084.0" r="3.5" fill="rgb(38,12,250)"/>
<circle cx="232.1" cy="1085.6" r="3.5" fill="rgb(38,12,250)"/>
<circle cx="237.0" cy="1085.6" r="3.5" fill="rgb(38,12,250)"/>
<circle cx="244.4" cy="1084.8" r="3.5" fill="rgb(38,12,250)"/>
<circle cx="248.5" cy="1086.5" r="3.5" fill="rgb(38,12,250)"/>
<circle cx="253.4" cy="1088.1" r="3.5" fill="rgb(38,12,250)"/>
<circle cx="228.0" cy="1089.7" r="3.5" fill="rgb(38,12,250)"/>
<circle cx="232.9" cy="1090.5" r="3.5" fill="rgb(38,12,250)"/>
<circle cx="245.2" cy="1091.4" r="3.5" fill="rgb(38,12,250)"/>
<circle cx="250.9" cy="1093.0" r="3.5" fill="rgb(38,12,250)"/>
<circle cx="259.1" cy="1091.4" r="3.5" fill="rgb(38,12,250)"/>
<circle cx="212.5" cy="1088.9" r="3.5" fill="rgb(38,12,250)"/>
<circle cx="218.2" cy="1091.4" r="3.5" fill="rgb(38,12,250)"/>
<circle cx="213.3" cy="1097.9" r="3.5" fill="rgb(38,12,250)"/>
<circle cx="214.9" cy="1102.0" r="3.5" fill="rgb(38,12,250)"/>
<circle cx="213.3" cy="1106.1" r="3.5" fill="rgb(38,12,250)"/>
<circle cx="223.9" cy="1097.9" r="3.5" fill="rgb(38,12,250)"/>
<circle cx="228.8" cy="1097.1" r="3.5" fill="rgb(38,12,250)"/>
<circle cx="223.1" cy="1103.6" r="3.5" fill="rgb(38,12,250)"/>
<circle cx="227.2" cy="1107.7" r="3.5" fill="rgb(38,12,250)"/>
<circle cx="225.5" cy="1111.0" r="3.5" fill="rgb(38,12,250)"/>
<circle cx="230.5" cy="1103.6" r="3.5" fill="rgb(38,12,250)"/>
<circle cx="236.2" cy="1099.5" r="3.5" fill="rgb(38,12,250)"/>
<circle cx="237.0" cy="1106.1" r="3.5" fill="rgb(38,12,250)"/>
<circle cx="241.9" cy="1096.3" r="3.5" fill="rgb(38,12,250)"/>
<circle cx="242.7" cy="1102.0" r="3.5" fill="rgb(38,12,250)"/>
<circle cx="245.2" cy="1107.7" r="3.5" fill="rgb(38,12,250)"/>
<circle cx="248.5" cy="1098.7" r="3.5" fill="rgb(38,12,250)"/>
<circle cx="250.9" cy="1104.5" r="3.5" fill="rgb(38,12,250)"/>
<circle cx="251.7" cy="1110.2" r="3.5" fill="rgb(38,12,250)"/>
<circle cx="255.8" cy="1099.5" r="3.5" fill="rgb(38,12,250)"/>
<circle cx="257.5" cy="1106.1" r="3.5" fill="rgb(38,12,250)"/>
<circle cx="259.1" cy="1110.2" r="3.5" fill="rgb(38,12,250)"/>
<circle cx="262.0" cy="1091.8" r="3.5" fill="rgb(38,12,250)"/>
<circle cx="255.0" cy="1088.1" r="3.5" fill="rgb(38,12,250)"/>
<circle cx="256.6" cy="1099.5" r="3.5" fill="rgb(38,12,250)"/>
<circle cx="267.3" cy="1098.7" r="3.5" fill="rgb(38,12,250)"/>
<circle cx="273.8" cy="1098.7" r="3.5" fill="rgb(38,12,250)"/>
<circle cx="261.5" cy="1102.8" r="3.5" fill="rgb(38,12,250)"/>
<circle cx="268.9" cy="1103.6" r="3.5" fill="rgb(38,12,250)"/>
<circle cx="275.5" cy="1103.6" r="3.5" fill="rgb(38,12,250)"/>
<circle cx="256.6" cy="1107.7" r="3.5" fill="rgb(38,12,250)"/>
<circle cx="262.4" cy="1109.4" r="3.5" fill="rgb(38,12,250)"/>
<circle cx="268.9" cy="1109.4" r="3.5" fill="rgb(38,12,250)"/>
<circle cx="275.5" cy="1109.4" r="3.5" fill="rgb(38,12,250)"/>
<circle cx="281.2" cy="1107.7" r="3.5" fill="rgb(38,12,250)"/>
<circle cx="286.1" cy="1106.1" r="3.5" fill="rgb(38,12,250)"/>
<circle cx="283.6" cy="1110.2" r="3.5" fill="rgb(38,12,250)"/>
<circle cx="289.4" cy="1111.0" r="3.5" fill="rgb(38,12,250)"/>
<circle cx="291.0" cy="1102.0" r="3.5" fill="rgb(38,12,250)"/>
<circle cx="294.3" cy="1099.5" r="3.5" fill="rgb(38,12,250)"/>
<circle cx="297.6" cy="1096.3" r="3.5" fill="rgb(38,12,250)"/>
<circle cx="301.6" cy="1089.7" r="3.5" fill="rgb(38,12,250)"/>
<circle cx="302.5" cy="1094.6" r="3.5" fill="rgb(38,12,250)"/>
<circle cx="304.1" cy="1101.2" r="3.5" fill="rgb(38,12,250)"/>
<circle cx="295.1" cy="1107.7" r="3.5" fill="rgb(38,12,250)"/>
<circle cx="300.8" cy="1109.4" r="3.5" fill="rgb(38,12,250)"/>
<circle cx="304.1" cy="1109.4" r="3.5" fill="rgb(38,12,250)"/>
<circle cx="313.5" cy="1078.7" r="3.5" fill="rgb(38,12,250)"/>
<circle cx="317.2" cy="1086.0" r="3.5" fill="rgb(38,12,250)"/>
<circle cx="320.9" cy="1085.2" r="3.5" fill="rgb(38,12,250)"/>
<circle cx="328.2" cy="1083.2" r="3.5" fill="rgb(38,12,250)"/>
<circle cx="333.6" cy="1087.3" r="3.5" fill="rgb(38,12,250)"/>
<circle cx="334.4" cy="1092.2" r="3.5" fill="rgb(38,12,250)"/>
<circle cx="342.6" cy="1085.6" r="3.5" fill="rgb(38,12,250)"/>
<circle cx="345.8" cy="1088.9" r="3.5" fill="rgb(38,12,250)"/>
<circle cx="349.1" cy="1088.1" r="3.5" fill="rgb(38,12,250)"/>
<circle cx="301.6" cy="1089.3" r="3.5" fill="rgb(38,12,250)"/>
<circle cx="301.6" cy="1094.6" r="3.5" fill="rgb(38,12,250)"/>
<circle cx="305.7" cy="1097.9" r="3.5" fill="rgb(38,12,250)"/>
<circle cx="312.3" cy="1097.1" r="3.5" fill="rgb(38,12,250)"/>
<circle cx="315.5" cy="1100.4" r="3.5" fill="rgb(38,12,250)"/>
<circle cx="302.5" cy="1102.8" r="3.5" fill="rgb(38,12,250)"/>
<circle cx="308.2" cy="1103.6" r="3.5" fill="rgb(38,12,250)"/>
<circle cx="313.1" cy="1105.3" r="3.5" fill="rgb(38,12,250)"/>
<circle cx="311.5" cy="1110.2" r="3.5" fill="rgb(38,12,250)"/>
<circle cx="303.3" cy="1109.4" r="3.5" fill="rgb(38,12,250)"/>
<circle cx="326.2" cy="1093.8" r="3.5" fill="rgb(38,12,250)"/>
<circle cx="327.0" cy="1098.7" r="3.5" fill="rgb(38,12,250)"/>
<circle cx="321.3" cy="1102.8" r="3.5" fill="rgb(38,12,250)"/>
<circle cx="322.9" cy="1107.7" r="3.5" fill="rgb(38,12,250)"/>
<circle cx="327.0" cy="1111.0" r="3.5" fill="rgb(38,12,250)"/>
<circle cx="331.1" cy="1100.4" r="3.5" fill="rgb(38,12,250)"/>
<circle cx="334.4" cy="1103.6" r="3.5" fill="rgb(38,12,250)"/>
<circle cx="338.5" cy="1099.5" r="3.5" fill="rgb(38,12,250)"/>
<circle cx="342.6" cy="1100.4" r="3.5" fill="rgb(38,12,250)"/>
<circle cx="346.6" cy="1099.5" r="3.5" fill="rgb(38,12,250)"/>
<circle cx="348.3" cy="1096.3" r="3.5" fill="rgb(38,12,250)"/>
<circle cx="348.3" cy="1107.7" r="3.5" fill="rgb(38,12,250)"/>
<circle cx="349.1" cy="1111.0" r="3.5" fill="rgb(38,12,250)"/>
<circle cx="332.7" cy="1106.1" r="3.5" fill="rgb(38,12,250)"/>
<circle cx="537.0" cy="796.0" r="4.5" fill="rgb(240,0,0)"/>
<circle cx="244.1" cy="860.3" r="4.5" fill="rgb(240,0,0)"/>
<circle cx="199.8" cy="946.9" r="4.5" fill="rgb(240,0,0)"/>
<circle cx="348.5" cy="959.9" r="4.5" fill="rgb(240,0,0)"/>
<circle cx="321.8" cy="971.2" r="4.5" fill="rgb(240,0,0)"/>
<circle cx="454.1" cy="980.8" r="4.5" fill="rgb(240,0,0)"/>
<circle cx="506.6" cy="979.2" r="4.5" fill="rgb(240,0,0)"/>
<circle cx="246.5" cy="996.5" r="4.5" fill="rgb(240,0,0)"/>
<circle cx="245.5" cy="1014.5" r="4.5" fill="rgb(240,0,0)"/>
<circle cx="350.8" cy="1008.7" r="4.5" fill="rgb(240,0,0)"/>
<circle cx="334.3" cy="1033.1" r="4.5" fill="rgb(240,0,0)"/>
<circle cx="353.3" cy="1039.0" r="4.5" fill="rgb(240,0,0)"/>
<circle cx="329.3" cy="1044.1" r="4.5" fill="rgb(240,0,0)"/>
<circle cx="366.1" cy="1053.9" r="4.5" fill="rgb(240,0,0)"/>
<circle cx="312.9" cy="1060.0" r="4.5" fill="rgb(240,0,0)"/>
<circle cx="405.8" cy="1063.0" r="4.5" fill="rgb(240,0,0)"/>
<circle cx="337.1" cy="1070.8" r="4.5" fill="rgb(240,0,0)"/>
<circle cx="374.0" cy="1071.8" r="4.5" fill="rgb(240,0,0)"/>
<circle cx="380.1" cy="1071.8" r="4.5" fill="rgb(240,0,0)"/>
<circle cx="135.7" cy="1055.1" r="4.5" fill="rgb(240,0,0)"/>
<circle cx="147.0" cy="1055.1" r="4.5" fill="rgb(240,0,0)"/>
<circle cx="105.3" cy="1073.1" r="4.5" fill="rgb(240,0,0)"/>
<circle cx="140.1" cy="1073.5" r="4.5" fill="rgb(240,0,0)"/>
<circle cx="179.5" cy="1072.6" r="4.5" fill="rgb(240,0,0)"/>
<circle cx="189.5" cy="1054.3" r="4.5" fill="rgb(240,0,0)"/>
<circle cx="234.0" cy="1047.7" r="4.5" fill="rgb(240,0,0)"/>
<circle cx="249.7" cy="1051.2" r="4.5" fill="rgb(240,0,0)"/>
<circle cx="221.8" cy="1058.5" r="4.5" fill="rgb(240,0,0)"/>
<circle cx="201.2" cy="1063.4" r="4.5" fill="rgb(240,0,0)"/>
<circle cx="207.5" cy="1065.3" r="4.5" fill="rgb(240,0,0)"/>
<circle cx="211.4" cy="1065.3" r="4.5" fill="rgb(240,0,0)"/>
<circle cx="204.5" cy="1072.8" r="4.5" fill="rgb(240,0,0)"/>
<circle cx="245.8" cy="1064.4" r="4.5" fill="rgb(240,0,0)"/>
<circle cx="242.2" cy="1075.0" r="4.5" fill="rgb(240,0,0)"/>
<circle cx="265.8" cy="1068.3" r="4.5" fill="rgb(240,0,0)"/>
<text x="431.8" y="791.0" font-size="10" font-weight="bold" textLength="95.8" lengthAdjust="spacingAndGlyphs" stroke="#000" stroke-width="0.12">A0A175JBL3_PAENI</text>
<text x="253.8" y="864.2" font-size="10" font-weight="bold" textLength="97.0" lengthAdjust="spacingAndGlyphs" stroke="#000" stroke-width="0.12">A0A175JAC0_PAENI</text>
<text x="209.1" y="951.1" font-size="10" font-weight="bold" textLength="93.5" lengthAdjust="spacingAndGlyphs" stroke="#000" stroke-width="0.12">A0A175J7I0_PAENI</text>
<text x="358.8" y="964.1" font-size="10" font-weight="bold" textLength="73.2" lengthAdjust="spacingAndGlyphs" stroke="#000" stroke-width="0.12">MABO2_PAENI</text>
<text x="331.9" y="975.3" font-size="10" font-weight="bold" textLength="97.4" lengthAdjust="spacingAndGlyphs" stroke="#000" stroke-width="0.12">A0A175J0V4_PAENI</text>
<text x="477.4" y="973.4" font-size="10" font-weight="bold" textLength="96.6" lengthAdjust="spacingAndGlyphs" stroke="#000" stroke-width="0.12">A0A175J283_PAENI</text>
<text x="439.4" y="992.3" font-size="10" font-weight="bold" textLength="76.2" lengthAdjust="spacingAndGlyphs" stroke="#000" stroke-width="0.12">Q93NH4_PAENI</text>
<text x="256.0" y="1000.7" font-size="10" font-weight="bold" textLength="95.5" lengthAdjust="spacingAndGlyphs" stroke="#000" stroke-width="0.12">A0A175J0S4_PAENI</text>
<text x="255.1" y="1018.8" font-size="10" font-weight="bold" textLength="95.7" lengthAdjust="spacingAndGlyphs" stroke="#000" stroke-width="0.12">A0A175J114_PAENI</text>
<text x="360.8" y="1013.6" font-size="10" font-weight="bold" textLength="95.1" lengthAdjust="spacingAndGlyphs" stroke="#000" stroke-width="0.12">A0A175J0T5_PAENI</text>
<text x="336.2" y="1030.7" font-size="10" font-weight="bold" textLength="71.3" lengthAdjust="spacingAndGlyphs" stroke="#000" stroke-width="0.12">DHPON_PAENI</text>
<text x="361.5" y="1042.6" font-size="10" font-weight="bold" textLength="63.2" lengthAdjust="spacingAndGlyphs" stroke="#000" stroke-width="0.12">KDHA_PAENI</text>
<text x="235.9" y="1044.9" font-size="10" font-weight="bold" textLength="96.0" lengthAdjust="spacingAndGlyphs" stroke="#000" stroke-width="0.12">A0A175J635_PAENI</text>
<text x="302.4" y="1054.6" font-size="10" font-weight="bold" textLength="62.3" lengthAdjust="spacingAndGlyphs" stroke="#000" stroke-width="0.12">DHPH_PAENI</text>
<text x="374.0" y="1055.9" font-size="10" font-weight="bold" textLength="98.3" lengthAdjust="spacingAndGlyphs" stroke="#000" stroke-width="0.12">A0A175J1G8_PAENI</text>
<text x="323.2" y="1063.4" font-size="10" font-weight="bold" textLength="76.8" lengthAdjust="spacingAndGlyphs" stroke="#000" stroke-width="0.12">Q93NG2_PAENI</text>
<text x="415.4" y="1067.2" font-size="10" font-weight="bold" textLength="96.1" lengthAdjust="spacingAndGlyphs" stroke="#000" stroke-width="0.12">A0A175J0T3_PAENI</text>
<text x="388.4" y="1076.1" font-size="10" font-weight="bold" textLength="61.6" lengthAdjust="spacingAndGlyphs" stroke="#000" stroke-width="0.12">SSDH_PAENI</text>
<text x="56.6" y="1050.5" font-size="10" font-weight="bold" textLength="97.6" lengthAdjust="spacingAndGlyphs" stroke="#000" stroke-width="0.12">A0A175J9U6_PAENI</text>
<text x="67.4" y="1069.8" font-size="10" font-weight="bold" textLength="95.8" lengthAdjust="spacingAndGlyphs" stroke="#000" stroke-width="0.12">A0A175J913_PAENI</text>
<text x="51.1" y="1084.9" font-size="10" font-weight="bold" textLength="95.6" lengthAdjust="spacingAndGlyphs" stroke="#000" stroke-width="0.12">A0A175J694_PAENI</text>
</svg>
</body></html>
